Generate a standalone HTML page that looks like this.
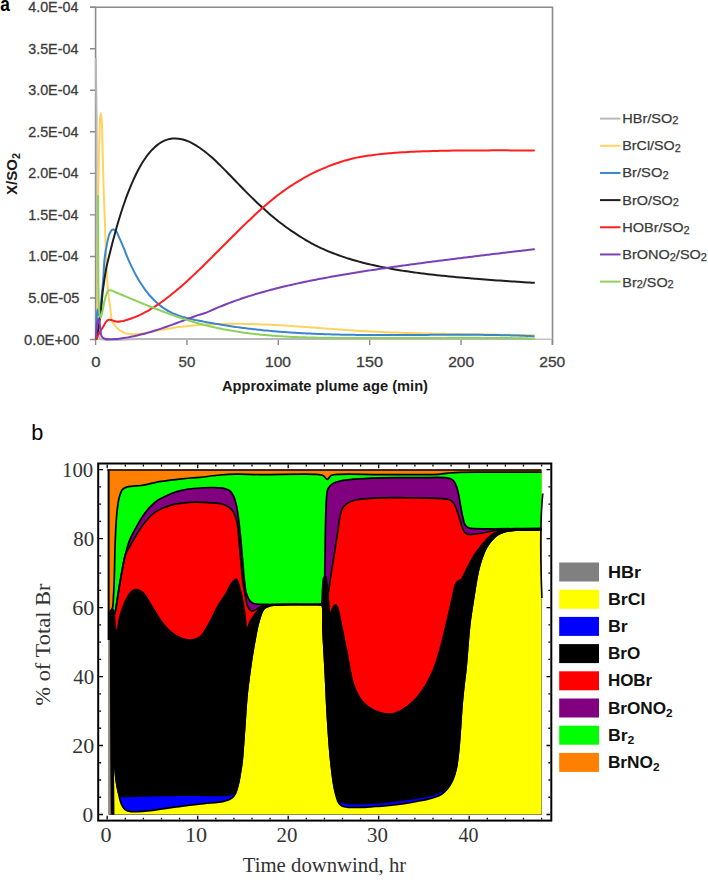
<!DOCTYPE html>
<html><head><meta charset="utf-8"><style>
html,body{margin:0;padding:0;background:#fff;}
body{width:708px;height:882px;overflow:hidden;}
svg{display:block;}
.ta{font-family:"Liberation Sans",sans-serif;font-size:15px;fill:#3c3c3c;stroke:#3c3c3c;stroke-width:0.3px;}
.tab{font-family:"Liberation Sans",sans-serif;font-size:14px;font-weight:bold;fill:#1a1a1a;}
.lab{font-family:"Liberation Sans",sans-serif;font-size:20px;font-weight:bold;fill:#000;}
.lg{font-family:"Liberation Sans",sans-serif;font-size:13.2px;fill:#3a3a3a;stroke:#3a3a3a;stroke-width:0.25px;}
.sub{font-size:10px;}
.lb{font-family:"Liberation Sans",sans-serif;font-size:22px;fill:#000;}
.tb{font-family:"Liberation Serif",serif;font-size:20px;fill:#333;}
.tbb{font-family:"Liberation Serif",serif;font-size:20px;font-weight:bold;fill:#333;}
.lgb{font-family:"Liberation Sans",sans-serif;font-size:16px;font-weight:bold;fill:#111;}
.sb{font-size:11px;}
</style></head><body>
<svg width="708" height="882" viewBox="0 0 708 882">
<g stroke="#8a8a8a" stroke-width="1.6" fill="none">
<path d="M90 7.2H552.5V344.5"/>
<path d="M95.6 7.2V339.4"/>
</g>
<path d="M95.6 339.3H552.5" stroke="#c2c2c2" stroke-width="1.4"/>
<path d="M90 7.20H95.6 M90 48.74H95.6 M90 90.28H95.6 M90 131.81H95.6 M90 173.35H95.6 M90 214.89H95.6 M90 256.43H95.6 M90 297.96H95.6 M90 339.50H95.6 M95.60 339.3V345 M186.96 339.3V345 M278.32 339.3V345 M369.68 339.3V345 M461.04 339.3V345 M552.40 339.3V345" stroke="#8a8a8a" stroke-width="1.4" fill="none"/>
<path d="M95.90 59.00 C95.97 66.00 96.01 72.38 96.10 80.00 C96.20 89.11 96.40 97.32 96.50 110.00 C96.67 131.96 96.62 169.21 96.70 200.00 C96.78 232.46 96.75 275.45 97.00 300.00 C97.15 314.32 96.07 327.99 97.60 334.00 C98.20 336.35 98.14 337.46 100.00 338.60 C105.16 341.77 119.78 338.90 140.00 339.00 C203.47 339.32 402.67 339.00 534.00 339.00" stroke="#b8b8b8" stroke-width="2" fill="none" stroke-linejoin="round" stroke-linecap="round"/>
<path d="M97.30 339.00 C97.43 326.00 97.58 316.21 97.70 300.00 C97.90 273.15 97.86 221.43 98.20 193.00 C98.42 174.15 98.73 159.65 99.10 146.00 C99.39 135.46 99.55 123.46 100.10 118.00 C100.33 115.73 100.65 113.19 100.90 113.20 C101.19 113.21 101.48 116.99 101.70 120.00 C102.13 125.86 102.22 136.35 102.50 146.00 C102.85 158.12 103.17 173.59 103.60 187.00 C104.01 199.91 104.58 213.08 105.00 225.00 C105.37 235.59 105.54 244.65 106.00 255.00 C106.49 266.10 107.02 279.84 107.90 289.50 C108.54 296.54 109.39 302.06 110.20 307.70 C110.90 312.63 111.12 318.27 112.40 321.52 C113.19 323.54 114.35 324.66 115.41 326.00 C116.37 327.21 117.37 328.31 118.42 329.24 C119.38 330.10 120.40 330.85 121.43 331.46 C122.41 332.04 123.42 332.49 124.44 332.86 C125.43 333.22 126.44 333.46 127.45 333.66 C128.45 333.86 129.45 333.97 130.46 334.06 C131.46 334.16 132.47 334.20 133.47 334.21 C134.47 334.22 135.48 334.20 136.48 334.14 C137.48 334.09 138.49 334.00 139.49 333.89 C140.49 333.79 141.50 333.65 142.50 333.50 C143.50 333.35 144.51 333.17 145.51 332.99 C146.51 332.81 147.52 332.61 148.52 332.41 C149.52 332.21 150.53 331.99 151.53 331.78 C152.53 331.57 153.54 331.36 154.54 331.15 C155.54 330.94 156.55 330.74 157.55 330.54 C158.55 330.34 159.56 330.15 160.56 329.96 C161.56 329.77 162.57 329.59 163.57 329.41 C164.57 329.23 165.58 329.06 166.58 328.89 C167.58 328.73 168.59 328.56 169.59 328.40 C170.59 328.25 171.60 328.09 172.60 327.94 C173.60 327.80 174.61 327.65 175.61 327.51 C176.61 327.37 177.62 327.24 178.62 327.11 C179.62 326.98 180.63 326.85 181.63 326.73 C182.63 326.61 183.64 326.49 184.64 326.38 C185.64 326.27 186.65 326.16 187.65 326.05 C188.65 325.95 189.66 325.85 190.66 325.75 C191.66 325.66 192.67 325.57 193.67 325.48 C194.67 325.39 195.68 325.31 196.68 325.23 C197.68 325.15 198.69 325.07 199.69 325.00 C200.69 324.92 201.70 324.85 202.70 324.79 C203.70 324.72 204.71 324.66 205.71 324.60 C206.71 324.55 207.72 324.49 208.72 324.44 C209.72 324.39 210.73 324.34 211.73 324.30 C212.73 324.25 213.74 324.21 214.74 324.17 C215.74 324.14 216.75 324.10 217.75 324.07 C218.75 324.04 219.76 324.01 220.76 323.98 C221.76 323.96 222.77 323.94 223.77 323.92 C224.77 323.90 225.78 323.88 226.78 323.87 C227.78 323.85 228.79 323.84 229.79 323.83 C230.79 323.82 231.80 323.82 232.80 323.82 C233.80 323.81 234.81 323.81 235.81 323.82 C236.81 323.82 237.82 323.82 238.82 323.83 C239.82 323.84 240.83 323.85 241.83 323.86 C242.83 323.87 243.84 323.89 244.84 323.90 C245.84 323.92 246.85 323.94 247.85 323.96 C248.85 323.98 249.86 324.01 250.86 324.03 C251.86 324.06 252.87 324.09 253.87 324.12 C254.87 324.15 255.88 324.18 256.88 324.21 C257.88 324.25 258.89 324.28 259.89 324.32 C260.89 324.36 261.90 324.40 262.90 324.44 C263.90 324.48 264.91 324.52 265.91 324.57 C266.91 324.61 267.92 324.66 268.92 324.71 C269.92 324.75 270.93 324.80 271.93 324.85 C272.93 324.91 273.94 324.96 274.94 325.01 C275.94 325.07 276.95 325.12 277.95 325.18 C278.95 325.23 279.96 325.29 280.96 325.35 C281.96 325.41 282.97 325.47 283.97 325.53 C284.97 325.59 285.98 325.66 286.98 325.72 C287.98 325.78 288.99 325.85 289.99 325.91 C290.99 325.98 292.00 326.04 293.00 326.11 C294.00 326.18 295.01 326.25 296.01 326.32 C297.01 326.39 298.02 326.46 299.02 326.53 C300.02 326.60 301.03 326.67 302.03 326.74 C303.03 326.81 304.04 326.88 305.04 326.95 C306.04 327.03 307.05 327.10 308.05 327.17 C309.05 327.25 310.06 327.32 311.06 327.40 C312.06 327.47 313.07 327.54 314.07 327.62 C315.07 327.69 316.08 327.77 317.08 327.84 C318.08 327.92 319.09 327.99 320.09 328.07 C321.09 328.14 322.10 328.22 323.10 328.30 C324.10 328.37 325.11 328.45 326.11 328.52 C327.11 328.60 328.12 328.67 329.12 328.75 C330.12 328.82 331.13 328.89 332.13 328.97 C333.13 329.04 334.14 329.12 335.14 329.19 C336.14 329.26 337.15 329.34 338.15 329.41 C339.15 329.48 340.16 329.55 341.16 329.62 C342.16 329.69 343.17 329.77 344.17 329.84 C345.17 329.91 346.18 329.97 347.18 330.04 C348.18 330.11 349.19 330.18 350.19 330.25 C351.19 330.31 352.20 330.38 353.20 330.44 C354.20 330.51 355.21 330.57 356.21 330.64 C357.21 330.70 358.22 330.76 359.22 330.82 C360.22 330.88 361.23 330.94 362.23 331.00 C363.23 331.06 364.24 331.12 365.24 331.17 C366.24 331.23 367.25 331.29 368.25 331.34 C369.25 331.39 370.26 331.45 371.26 331.50 C372.26 331.55 373.27 331.60 374.27 331.65 C375.27 331.70 376.28 331.75 377.28 331.80 C378.28 331.85 379.29 331.89 380.29 331.94 C381.29 331.99 382.30 332.03 383.30 332.07 C384.30 332.12 385.31 332.16 386.31 332.20 C387.31 332.25 388.32 332.29 389.32 332.33 C390.32 332.37 391.33 332.41 392.33 332.45 C393.33 332.49 394.34 332.52 395.34 332.56 C396.34 332.60 397.35 332.64 398.35 332.67 C399.35 332.71 400.36 332.74 401.36 332.78 C402.36 332.81 403.37 332.84 404.37 332.88 C405.37 332.91 406.38 332.94 407.38 332.97 C408.38 333.00 409.39 333.03 410.39 333.06 C411.39 333.09 412.40 333.12 413.40 333.15 C414.40 333.18 415.41 333.21 416.41 333.23 C417.41 333.26 418.42 333.29 419.42 333.31 C420.42 333.34 421.43 333.36 422.43 333.39 C423.43 333.41 424.44 333.44 425.44 333.46 C426.44 333.49 427.45 333.51 428.45 333.53 C429.45 333.55 430.46 333.58 431.46 333.60 C432.46 333.62 433.47 333.64 434.47 333.66 C435.47 333.68 436.48 333.70 437.48 333.72 C438.48 333.74 439.49 333.76 440.49 333.78 C441.49 333.80 442.50 333.82 443.50 333.84 C444.50 333.85 445.51 333.87 446.51 333.89 C447.51 333.91 448.52 333.93 449.52 333.94 C450.52 333.96 451.53 333.98 452.53 333.99 C453.53 334.01 454.54 334.02 455.54 334.04 C456.54 334.06 457.55 334.07 458.55 334.09 C459.55 334.10 460.56 334.12 461.56 334.13 C462.56 334.15 463.57 334.16 464.57 334.18 C465.57 334.19 466.58 334.21 467.58 334.22 C468.58 334.23 469.59 334.25 470.59 334.26 C471.59 334.28 472.60 334.29 473.60 334.30 C474.60 334.32 475.61 334.33 476.61 334.35 C477.61 334.36 478.62 334.37 479.62 334.39 C480.62 334.40 481.63 334.41 482.63 334.43 C483.63 334.44 484.64 334.45 485.64 334.47 C486.64 334.48 487.65 334.50 488.65 334.51 C489.65 334.52 490.66 334.54 491.66 334.55 C492.66 334.56 493.67 334.58 494.67 334.59 C495.67 334.61 496.68 334.62 497.68 334.63 C498.68 334.65 499.69 334.66 500.69 334.68 C501.69 334.69 502.70 334.71 503.70 334.72 C504.70 334.74 505.71 334.75 506.71 334.77 C507.71 334.78 508.72 334.80 509.72 334.82 C510.72 334.83 511.73 334.85 512.73 334.86 C513.73 334.88 514.74 334.90 515.74 334.91 C516.74 334.93 517.75 334.95 518.75 334.97 C519.75 334.98 520.76 335.00 521.76 335.02 C522.76 335.04 523.77 335.06 524.77 335.08 C525.77 335.10 526.78 335.12 527.78 335.14 C528.78 335.16 529.79 335.18 530.79 335.20 C531.79 335.22 532.80 335.24 533.80 335.26" stroke="#ffd35e" stroke-width="2" fill="none" stroke-linejoin="round" stroke-linecap="round"/>
<path d="M96.20 339.00 C96.40 331.33 96.37 321.37 96.80 316.00 C97.03 313.09 97.25 309.33 97.70 309.30 C98.17 309.27 99.06 316.54 99.60 316.50 C100.46 316.43 100.90 303.99 101.50 298.00 C102.06 292.34 102.61 287.51 103.10 281.50 C103.69 274.30 103.89 264.61 104.70 257.70 C105.33 252.31 106.20 247.66 107.10 243.40 C107.84 239.89 108.34 236.38 109.50 233.90 C110.37 232.05 111.49 229.86 112.70 229.50 C113.65 229.22 114.89 229.87 115.80 230.70 C117.13 231.91 117.86 234.66 119.00 237.10 C120.48 240.28 122.41 244.85 123.80 248.22 C124.95 250.99 125.79 253.36 126.81 255.83 C127.80 258.22 128.80 260.54 129.83 262.81 C130.82 264.99 131.82 267.11 132.84 269.17 C133.83 271.16 134.83 273.10 135.86 274.98 C136.85 276.79 137.85 278.54 138.87 280.25 C139.86 281.89 140.87 283.49 141.89 285.03 C142.88 286.52 143.88 287.96 144.90 289.36 C145.89 290.70 146.90 292.01 147.92 293.27 C148.91 294.48 149.91 295.66 150.93 296.79 C151.92 297.89 152.93 298.95 153.95 299.97 C154.94 300.95 155.94 301.90 156.96 302.81 C157.95 303.69 158.96 304.54 159.98 305.34 C160.97 306.13 161.98 306.88 162.99 307.59 C163.99 308.29 164.99 308.95 166.01 309.58 C167.00 310.20 168.01 310.78 169.02 311.33 C170.02 311.87 171.02 312.38 172.04 312.86 C173.03 313.34 174.04 313.78 175.05 314.20 C176.05 314.62 177.06 315.01 178.06 315.38 C179.07 315.74 180.07 316.08 181.08 316.40 C182.08 316.72 183.09 317.02 184.09 317.30 C185.10 317.58 186.10 317.84 187.11 318.10 C188.11 318.35 189.12 318.59 190.12 318.82 C191.13 319.05 192.13 319.27 193.14 319.49 C194.14 319.71 195.15 319.91 196.15 320.12 C197.16 320.33 198.16 320.54 199.17 320.74 C200.17 320.94 201.18 321.14 202.18 321.34 C203.19 321.54 204.19 321.73 205.20 321.93 C206.20 322.12 207.21 322.31 208.21 322.49 C209.22 322.68 210.22 322.86 211.23 323.05 C212.23 323.23 213.24 323.40 214.24 323.58 C215.25 323.76 216.25 323.93 217.26 324.10 C218.26 324.27 219.27 324.44 220.27 324.60 C221.28 324.77 222.28 324.93 223.29 325.09 C224.29 325.25 225.29 325.41 226.30 325.57 C227.30 325.72 228.31 325.87 229.31 326.03 C230.32 326.18 231.32 326.32 232.33 326.47 C233.33 326.61 234.34 326.76 235.34 326.90 C236.35 327.04 237.35 327.18 238.36 327.31 C239.36 327.45 240.37 327.58 241.37 327.72 C242.38 327.85 243.38 327.98 244.39 328.10 C245.39 328.23 246.40 328.36 247.40 328.48 C248.41 328.60 249.41 328.72 250.42 328.84 C251.42 328.96 252.43 329.07 253.43 329.19 C254.44 329.30 255.44 329.41 256.45 329.52 C257.45 329.63 258.46 329.74 259.46 329.84 C260.47 329.95 261.47 330.05 262.48 330.15 C263.48 330.26 264.49 330.36 265.49 330.45 C266.50 330.55 267.50 330.65 268.51 330.74 C269.51 330.83 270.52 330.92 271.52 331.01 C272.53 331.10 273.53 331.19 274.54 331.28 C275.54 331.36 276.55 331.45 277.55 331.53 C278.55 331.61 279.56 331.69 280.56 331.77 C281.57 331.85 282.57 331.92 283.58 332.00 C284.58 332.07 285.59 332.15 286.59 332.22 C287.60 332.29 288.60 332.36 289.61 332.43 C290.61 332.50 291.62 332.56 292.62 332.63 C293.63 332.69 294.63 332.76 295.64 332.82 C296.64 332.88 297.65 332.94 298.65 333.00 C299.66 333.06 300.66 333.11 301.67 333.17 C302.67 333.22 303.68 333.28 304.68 333.33 C305.69 333.38 306.69 333.43 307.70 333.48 C308.70 333.53 309.71 333.58 310.71 333.62 C311.72 333.67 312.72 333.72 313.73 333.76 C314.73 333.80 315.74 333.85 316.74 333.89 C317.75 333.93 318.75 333.97 319.76 334.01 C320.76 334.04 321.77 334.08 322.77 334.12 C323.78 334.15 324.78 334.19 325.79 334.22 C326.79 334.25 327.80 334.29 328.80 334.32 C329.80 334.35 330.81 334.38 331.81 334.41 C332.82 334.43 333.82 334.46 334.83 334.49 C335.83 334.51 336.84 334.54 337.84 334.56 C338.85 334.59 339.85 334.61 340.86 334.63 C341.86 334.65 342.87 334.68 343.87 334.70 C344.88 334.72 345.88 334.73 346.89 334.75 C347.89 334.77 348.90 334.79 349.90 334.80 C350.91 334.82 351.91 334.84 352.92 334.85 C353.92 334.86 354.93 334.88 355.93 334.89 C356.94 334.90 357.94 334.92 358.95 334.93 C359.95 334.94 360.96 334.95 361.96 334.96 C362.97 334.97 363.97 334.98 364.98 334.98 C365.98 334.99 366.99 335.00 367.99 335.01 C369.00 335.01 370.00 335.02 371.01 335.02 C372.01 335.03 373.02 335.03 374.02 335.04 C375.03 335.04 376.03 335.04 377.04 335.05 C378.04 335.05 379.05 335.05 380.05 335.05 C381.05 335.06 382.06 335.06 383.06 335.06 C384.07 335.06 385.07 335.06 386.08 335.06 C387.08 335.06 388.09 335.06 389.09 335.06 C390.10 335.05 391.10 335.05 392.11 335.05 C393.11 335.05 394.12 335.05 395.12 335.04 C396.13 335.04 397.13 335.04 398.14 335.03 C399.14 335.03 400.15 335.03 401.15 335.02 C402.16 335.02 403.16 335.02 404.17 335.01 C405.17 335.01 406.18 335.00 407.18 335.00 C408.19 334.99 409.19 334.99 410.20 334.98 C411.20 334.98 412.21 334.97 413.21 334.97 C414.22 334.96 415.22 334.96 416.23 334.95 C417.23 334.94 418.24 334.94 419.24 334.93 C420.25 334.93 421.25 334.92 422.26 334.92 C423.26 334.91 424.27 334.90 425.27 334.90 C426.28 334.89 427.28 334.89 428.29 334.88 C429.29 334.88 430.30 334.87 431.30 334.86 C432.30 334.86 433.31 334.85 434.31 334.85 C435.32 334.84 436.32 334.84 437.33 334.83 C438.33 334.83 439.34 334.82 440.34 334.82 C441.35 334.82 442.35 334.81 443.36 334.81 C444.36 334.80 445.37 334.80 446.37 334.80 C447.38 334.79 448.38 334.79 449.39 334.79 C450.39 334.78 451.40 334.78 452.40 334.78 C453.41 334.78 454.41 334.78 455.42 334.78 C456.42 334.77 457.43 334.77 458.43 334.77 C459.44 334.77 460.44 334.77 461.45 334.77 C462.45 334.77 463.46 334.78 464.46 334.78 C465.47 334.78 466.47 334.78 467.48 334.78 C468.48 334.79 469.49 334.79 470.49 334.79 C471.50 334.80 472.50 334.80 473.51 334.81 C474.51 334.81 475.52 334.82 476.52 334.82 C477.53 334.83 478.53 334.84 479.54 334.85 C480.54 334.85 481.55 334.86 482.55 334.87 C483.55 334.88 484.56 334.89 485.56 334.90 C486.57 334.91 487.57 334.93 488.58 334.94 C489.58 334.95 490.59 334.96 491.59 334.98 C492.60 334.99 493.60 335.01 494.61 335.02 C495.61 335.04 496.62 335.06 497.62 335.08 C498.63 335.09 499.63 335.11 500.64 335.13 C501.64 335.15 502.65 335.17 503.65 335.20 C504.66 335.22 505.66 335.24 506.67 335.27 C507.67 335.29 508.68 335.31 509.68 335.34 C510.69 335.37 511.69 335.39 512.70 335.42 C513.70 335.45 514.71 335.48 515.71 335.51 C516.72 335.54 517.72 335.57 518.73 335.61 C519.73 335.64 520.74 335.68 521.74 335.71 C522.75 335.75 523.75 335.78 524.76 335.82 C525.76 335.86 526.77 335.90 527.77 335.94 C528.78 335.98 529.78 336.02 530.79 336.07 C531.79 336.11 532.80 336.16 533.80 336.20" stroke="#3a86cc" stroke-width="2" fill="none" stroke-linejoin="round" stroke-linecap="round"/>
<path d="M96.50 338.70 C97.33 334.13 98.26 329.68 99.00 325.00 C99.77 320.12 100.40 315.23 101.00 310.00 C101.65 304.28 101.92 298.42 102.70 292.00 C103.61 284.56 105.01 274.72 106.30 267.98 C107.25 263.02 108.29 259.37 109.31 255.18 C110.30 251.11 111.30 247.10 112.32 243.17 C113.31 239.36 114.31 235.62 115.33 231.95 C116.32 228.40 117.32 224.91 118.35 221.49 C119.33 218.18 120.33 214.94 121.36 211.77 C122.34 208.70 123.35 205.69 124.37 202.76 C125.35 199.93 126.36 197.15 127.38 194.45 C128.36 191.84 129.37 189.29 130.39 186.81 C131.38 184.42 132.38 182.09 133.40 179.83 C134.39 177.65 135.39 175.53 136.41 173.47 C137.40 171.50 138.40 169.58 139.42 167.73 C140.41 165.95 141.41 164.23 142.44 162.57 C143.42 160.98 144.42 159.45 145.45 157.98 C146.43 156.57 147.43 155.22 148.46 153.93 C149.44 152.70 150.44 151.52 151.47 150.41 C152.45 149.34 153.46 148.33 154.48 147.39 C155.46 146.48 156.47 145.63 157.49 144.85 C158.48 144.09 159.48 143.40 160.50 142.77 C161.49 142.16 162.50 141.61 163.51 141.12 C164.50 140.65 165.51 140.24 166.53 139.89 C167.52 139.55 168.53 139.28 169.54 139.06 C170.53 138.85 171.54 138.69 172.55 138.60 C173.55 138.50 174.56 138.47 175.56 138.49 C176.56 138.51 177.57 138.58 178.57 138.71 C179.58 138.83 180.58 139.01 181.58 139.24 C182.59 139.46 183.60 139.74 184.59 140.05 C185.60 140.37 186.61 140.73 187.60 141.13 C188.62 141.53 189.62 141.98 190.62 142.46 C191.63 142.94 192.63 143.47 193.63 144.02 C194.64 144.58 195.64 145.17 196.64 145.79 C197.65 146.42 198.65 147.09 199.65 147.77 C200.66 148.46 201.66 149.19 202.66 149.93 C203.67 150.68 204.67 151.46 205.67 152.26 C206.68 153.07 207.68 153.90 208.68 154.74 C209.69 155.59 210.70 156.47 211.69 157.36 C212.70 158.25 213.71 159.17 214.71 160.10 C215.71 161.03 216.72 161.98 217.72 162.94 C218.72 163.90 219.73 164.88 220.73 165.87 C221.73 166.86 222.74 167.86 223.74 168.87 C224.75 169.88 225.75 170.91 226.75 171.93 C227.76 172.96 228.76 173.99 229.76 175.03 C230.77 176.07 231.77 177.11 232.77 178.16 C233.78 179.20 234.78 180.25 235.78 181.29 C236.79 182.33 237.79 183.38 238.80 184.42 C239.80 185.46 240.80 186.49 241.81 187.52 C242.81 188.55 243.81 189.58 244.82 190.59 C245.82 191.61 246.82 192.62 247.83 193.63 C248.83 194.63 249.84 195.63 250.84 196.62 C251.84 197.61 252.85 198.59 253.85 199.57 C254.85 200.54 255.86 201.51 256.86 202.47 C257.86 203.42 258.87 204.37 259.87 205.30 C260.88 206.24 261.88 207.17 262.89 208.08 C263.89 209.00 264.89 209.90 265.90 210.79 C266.90 211.68 267.90 212.57 268.91 213.44 C269.91 214.30 270.91 215.16 271.92 216.00 C272.92 216.84 273.92 217.67 274.93 218.49 C275.93 219.31 276.94 220.11 277.94 220.91 C278.94 221.70 279.95 222.48 280.95 223.25 C281.95 224.02 282.96 224.78 283.96 225.52 C284.97 226.27 285.97 227.00 286.98 227.72 C287.98 228.44 289.86 229.77 289.99 229.85 C290.00 229.86 289.99 229.86 290.00 229.86 C290.12 229.95 292.00 231.24 293.00 231.91 C294.00 232.59 295.00 233.25 296.00 233.91 C297.00 234.56 298.00 235.21 299.00 235.85 C300.00 236.49 301.00 237.12 302.00 237.74 C303.00 238.36 304.00 238.98 305.00 239.58 C306.00 240.17 307.00 240.76 308.00 241.33 C309.00 241.91 310.00 242.47 311.00 243.01 C312.00 243.56 313.00 244.09 314.00 244.61 C315.00 245.12 316.00 245.63 317.00 246.12 C318.00 246.62 319.00 247.10 320.00 247.57 C321.00 248.05 322.00 248.51 323.00 248.96 C324.00 249.41 325.00 249.85 326.00 250.29 C327.00 250.72 328.00 251.14 329.00 251.56 C330.00 251.97 331.00 252.37 332.00 252.77 C333.00 253.17 334.00 253.55 335.00 253.93 C336.00 254.31 337.00 254.68 338.00 255.05 C339.00 255.41 340.00 255.76 341.00 256.11 C342.00 256.46 343.00 256.80 344.00 257.14 C345.00 257.47 346.00 257.80 347.00 258.12 C348.00 258.43 349.00 258.75 350.00 259.05 C351.00 259.36 352.00 259.66 353.00 259.96 C354.00 260.25 355.00 260.54 356.00 260.82 C357.00 261.10 358.00 261.38 359.00 261.65 C360.00 261.92 361.00 262.18 362.00 262.45 C363.00 262.71 364.00 262.96 365.00 263.21 C366.00 263.46 367.00 263.70 368.00 263.94 C369.00 264.18 370.00 264.42 371.00 264.65 C372.00 264.88 373.00 265.11 374.00 265.33 C375.00 265.55 376.00 265.77 377.00 265.98 C378.00 266.20 379.00 266.41 380.00 266.61 C381.00 266.82 382.00 267.02 383.00 267.22 C384.00 267.41 385.00 267.61 386.00 267.80 C387.00 267.99 388.00 268.18 389.00 268.36 C390.00 268.54 391.00 268.73 392.00 268.90 C393.00 269.08 394.00 269.25 395.00 269.42 C396.00 269.60 397.00 269.76 398.00 269.93 C399.00 270.09 400.00 270.26 401.00 270.42 C402.00 270.57 403.00 270.73 404.00 270.89 C405.00 271.04 406.00 271.19 407.00 271.34 C408.00 271.49 409.00 271.63 410.00 271.78 C411.00 271.92 412.00 272.06 413.00 272.20 C414.00 272.34 415.00 272.48 416.00 272.62 C417.00 272.75 418.00 272.88 419.00 273.01 C420.00 273.14 421.00 273.27 422.00 273.40 C423.00 273.53 424.00 273.65 425.00 273.78 C426.00 273.90 427.00 274.02 428.00 274.14 C429.00 274.26 430.00 274.38 431.00 274.49 C432.00 274.61 433.00 274.72 434.00 274.83 C435.00 274.95 436.00 275.06 437.00 275.17 C438.00 275.28 439.00 275.39 440.00 275.49 C441.00 275.60 442.00 275.70 443.00 275.81 C444.00 275.91 445.00 276.01 446.00 276.11 C447.00 276.22 448.00 276.32 449.00 276.41 C450.00 276.51 451.00 276.61 452.00 276.71 C453.00 276.80 454.00 276.90 455.00 276.99 C456.00 277.08 457.00 277.18 458.00 277.27 C459.00 277.36 460.00 277.45 461.00 277.54 C462.00 277.63 463.00 277.72 464.00 277.81 C465.00 277.89 466.00 277.98 467.00 278.06 C468.00 278.15 469.00 278.24 470.00 278.32 C471.00 278.40 472.00 278.49 473.00 278.57 C474.00 278.65 475.00 278.73 476.00 278.81 C477.00 278.89 478.00 278.97 479.00 279.05 C480.00 279.13 481.00 279.21 482.00 279.28 C483.00 279.36 484.00 279.44 485.00 279.51 C486.00 279.59 487.00 279.67 488.00 279.74 C489.00 279.82 490.00 279.89 491.00 279.96 C492.00 280.04 493.00 280.11 494.00 280.18 C495.00 280.25 496.00 280.32 497.00 280.40 C498.00 280.47 499.00 280.54 500.00 280.61 C501.00 280.68 502.00 280.75 503.00 280.81 C504.00 280.88 505.00 280.95 506.00 281.02 C507.00 281.09 508.00 281.16 509.00 281.22 C510.00 281.29 511.00 281.36 512.00 281.42 C513.00 281.49 514.00 281.55 515.00 281.62 C516.00 281.68 517.00 281.75 518.00 281.81 C519.00 281.88 520.00 281.94 521.00 282.00 C522.00 282.07 523.00 282.13 524.00 282.19 C525.00 282.26 526.00 282.32 527.00 282.38 C528.00 282.44 529.00 282.50 530.00 282.57 C531.00 282.63 532.27 282.70 533.00 282.75 C533.42 282.78 533.67 282.79 534.00 282.81" stroke="#1e1e1e" stroke-width="2" fill="none" stroke-linejoin="round" stroke-linecap="round"/>
<path d="M96.50 338.70 C97.53 336.60 98.47 334.42 99.60 332.40 C100.71 330.42 102.09 328.54 103.20 326.70 C104.21 325.02 104.93 323.02 106.00 321.80 C106.85 320.84 107.75 319.94 108.80 319.70 C109.88 319.45 111.11 320.09 112.40 320.40 C113.91 320.76 115.65 321.69 117.30 321.80 C118.92 321.91 120.77 321.38 122.20 321.11 C123.33 320.89 124.21 320.65 125.20 320.39 C126.21 320.12 127.21 319.83 128.21 319.53 C129.21 319.22 130.22 318.89 131.21 318.54 C132.22 318.18 133.22 317.81 134.22 317.41 C135.22 317.02 136.22 316.60 137.22 316.17 C138.23 315.73 139.23 315.27 140.23 314.80 C141.23 314.33 142.23 313.83 143.23 313.32 C144.24 312.80 145.24 312.27 146.24 311.72 C147.24 311.17 148.24 310.60 149.24 310.02 C150.24 309.43 151.25 308.83 152.24 308.21 C153.25 307.59 154.25 306.96 155.25 306.31 C156.25 305.66 157.25 304.99 158.25 304.31 C159.26 303.62 160.26 302.93 161.26 302.22 C162.26 301.50 163.26 300.77 164.26 300.04 C165.27 299.29 166.27 298.54 167.27 297.78 C168.27 297.01 169.27 296.23 170.27 295.44 C171.27 294.64 172.28 293.84 173.27 293.02 C174.28 292.20 175.28 291.38 176.28 290.54 C177.28 289.70 178.28 288.85 179.28 287.99 C180.29 287.13 181.29 286.26 182.29 285.38 C183.29 284.50 184.29 283.61 185.29 282.71 C186.30 281.81 187.30 280.90 188.30 279.99 C189.30 279.08 190.30 278.15 191.30 277.22 C192.30 276.29 193.31 275.35 194.31 274.41 C195.31 273.46 196.31 272.51 197.31 271.56 C198.31 270.60 199.31 269.63 200.31 268.67 C201.32 267.70 202.32 266.72 203.32 265.75 C204.32 264.77 205.32 263.78 206.32 262.80 C207.33 261.81 208.33 260.82 209.33 259.82 C210.33 258.83 211.33 257.83 212.33 256.83 C213.33 255.83 214.33 254.83 215.34 253.83 C216.34 252.82 217.34 251.82 218.34 250.81 C219.34 249.80 220.34 248.80 221.34 247.79 C222.35 246.78 223.35 245.77 224.35 244.76 C225.35 243.76 226.35 242.75 227.35 241.74 C228.35 240.74 229.36 239.73 230.36 238.73 C231.36 237.72 232.36 236.72 233.36 235.72 C234.36 234.72 235.36 233.72 236.37 232.73 C237.37 231.74 238.37 230.74 239.37 229.76 C240.37 228.77 241.37 227.79 242.38 226.81 C243.38 225.83 244.38 224.86 245.38 223.89 C246.38 222.92 247.38 221.96 248.38 221.00 C249.38 220.04 250.39 219.09 251.39 218.15 C252.39 217.20 253.39 216.27 254.39 215.33 C255.39 214.40 256.39 213.48 257.40 212.56 C258.40 211.65 259.40 210.75 260.40 209.85 C261.40 208.95 262.40 208.06 263.41 207.18 C264.40 206.30 265.41 205.43 266.41 204.57 C267.41 203.71 268.41 202.86 269.41 202.02 C270.41 201.19 271.41 200.36 272.42 199.54 C273.42 198.73 274.42 197.92 275.42 197.13 C276.42 196.34 277.42 195.56 278.43 194.79 C279.43 194.02 280.43 193.27 281.43 192.53 C282.43 191.79 283.43 191.06 284.44 190.34 C285.44 189.63 286.44 188.92 287.44 188.23 C288.44 187.54 289.44 186.86 290.45 186.20 C291.44 185.53 292.45 184.88 293.45 184.23 C294.45 183.59 295.45 182.96 296.45 182.34 C297.45 181.72 298.45 181.12 299.46 180.52 C300.46 179.92 301.46 179.34 302.46 178.77 C303.46 178.19 304.46 177.63 305.47 177.08 C306.47 176.53 307.47 175.99 308.47 175.46 C309.47 174.93 310.47 174.42 311.48 173.91 C312.48 173.40 313.48 172.91 314.48 172.42 C315.48 171.93 316.48 171.46 317.48 170.99 C318.48 170.53 319.49 170.07 320.49 169.62 C321.49 169.18 322.49 168.74 323.49 168.32 C324.49 167.89 325.49 167.48 326.50 167.07 C327.50 166.66 328.92 166.10 329.50 165.88 C329.74 165.79 329.76 165.78 330.00 165.69 C330.58 165.47 332.00 164.93 333.00 164.56 C334.00 164.19 335.00 163.83 336.00 163.47 C337.00 163.11 338.00 162.76 339.00 162.43 C340.00 162.09 341.00 161.76 342.00 161.44 C343.00 161.13 344.00 160.82 345.00 160.53 C346.00 160.24 347.00 159.96 348.00 159.70 C349.00 159.43 350.00 159.19 351.00 158.95 C352.00 158.71 353.00 158.48 354.00 158.27 C355.00 158.05 356.00 157.84 357.00 157.64 C358.00 157.43 359.00 157.24 360.00 157.05 C361.00 156.87 362.00 156.69 363.00 156.52 C364.00 156.34 365.00 156.18 366.00 156.02 C367.00 155.86 368.00 155.71 369.00 155.56 C370.00 155.41 371.00 155.27 372.00 155.14 C373.00 155.00 374.00 154.87 375.00 154.74 C376.00 154.62 377.00 154.50 378.00 154.38 C379.00 154.27 380.00 154.16 381.00 154.05 C382.00 153.94 383.00 153.84 384.00 153.74 C385.00 153.64 386.00 153.55 387.00 153.46 C388.00 153.36 389.00 153.28 390.00 153.19 C391.00 153.11 392.00 153.03 393.00 152.95 C394.00 152.87 395.00 152.80 396.00 152.72 C397.00 152.65 398.00 152.58 399.00 152.52 C400.00 152.45 401.00 152.39 402.00 152.33 C403.00 152.26 404.00 152.21 405.00 152.15 C406.00 152.09 407.00 152.04 408.00 151.99 C409.00 151.93 410.00 151.88 411.00 151.83 C412.00 151.79 413.00 151.74 414.00 151.69 C415.00 151.65 416.00 151.61 417.00 151.57 C418.00 151.52 419.00 151.49 420.00 151.45 C421.00 151.41 422.00 151.37 423.00 151.34 C424.00 151.30 425.00 151.27 426.00 151.24 C427.00 151.20 428.00 151.17 429.00 151.14 C430.00 151.11 431.00 151.08 432.00 151.06 C433.00 151.03 434.00 151.00 435.00 150.97 C436.00 150.95 437.00 150.92 438.00 150.90 C439.00 150.88 440.00 150.85 441.00 150.83 C442.00 150.81 443.00 150.79 444.00 150.77 C445.00 150.75 446.00 150.73 447.00 150.71 C448.00 150.69 449.00 150.67 450.00 150.66 C451.00 150.64 452.00 150.62 453.00 150.61 C454.00 150.59 455.00 150.58 456.00 150.56 C457.00 150.55 458.00 150.53 459.00 150.52 C460.00 150.51 461.00 150.50 462.00 150.49 C463.00 150.48 464.00 150.47 465.00 150.47 C466.00 150.46 467.00 150.45 468.00 150.45 C469.00 150.44 470.00 150.44 471.00 150.43 C472.00 150.43 473.00 150.42 474.00 150.42 C475.00 150.41 476.00 150.41 477.00 150.41 C478.00 150.40 479.00 150.40 480.00 150.40 C481.00 150.39 482.00 150.39 483.00 150.39 C484.00 150.38 485.00 150.38 486.00 150.38 C487.00 150.38 488.00 150.38 489.00 150.38 C490.00 150.37 491.00 150.37 492.00 150.37 C493.00 150.37 494.00 150.37 495.00 150.37 C496.00 150.37 497.00 150.37 498.00 150.37 C499.00 150.37 500.00 150.37 501.00 150.37 C502.00 150.37 503.00 150.37 504.00 150.37 C505.00 150.37 506.00 150.37 507.00 150.37 C508.00 150.37 509.00 150.37 510.00 150.38 C511.00 150.38 512.00 150.38 513.00 150.38 C514.00 150.38 515.00 150.38 516.00 150.38 C517.00 150.39 518.00 150.39 519.00 150.39 C520.00 150.39 521.00 150.39 522.00 150.40 C523.00 150.40 524.00 150.40 525.00 150.40 C526.00 150.41 527.00 150.41 528.00 150.41 C529.00 150.41 530.00 150.42 531.00 150.42 C532.00 150.42 533.00 150.42 534.00 150.43" stroke="#ff1f1f" stroke-width="2" fill="none" stroke-linejoin="round" stroke-linecap="round"/>
<path d="M96.20 337.00 C96.53 332.00 96.51 325.23 97.20 322.00 C97.54 320.39 98.10 318.47 98.50 318.50 C99.07 318.55 99.50 323.28 100.00 326.00 C100.60 329.22 100.54 334.54 101.80 336.60 C102.52 337.78 103.44 338.25 104.60 338.70 C106.05 339.26 108.46 339.19 110.00 339.23 C111.15 339.27 112.00 339.16 113.01 339.11 C114.01 339.06 115.01 338.99 116.01 338.91 C117.02 338.83 118.02 338.73 119.02 338.63 C120.02 338.52 121.02 338.40 122.03 338.28 C123.03 338.15 124.03 338.01 125.03 337.85 C126.03 337.70 127.04 337.54 128.04 337.37 C129.04 337.19 130.04 337.01 131.04 336.82 C132.05 336.62 133.05 336.42 134.05 336.21 C135.05 335.99 136.06 335.77 137.06 335.54 C138.06 335.31 139.06 335.07 140.06 334.82 C141.07 334.57 142.07 334.32 143.07 334.05 C144.07 333.79 145.08 333.52 146.08 333.24 C147.08 332.96 148.08 332.67 149.08 332.38 C150.09 332.09 151.09 331.79 152.09 331.48 C153.09 331.18 154.09 330.86 155.10 330.55 C156.10 330.23 157.10 329.91 158.10 329.58 C159.11 329.25 160.11 328.92 161.11 328.58 C162.11 328.24 163.11 327.90 164.11 327.55 C165.12 327.21 166.12 326.86 167.12 326.50 C168.12 326.15 169.13 325.79 170.13 325.43 C171.13 325.07 172.13 324.71 173.13 324.34 C174.14 323.98 175.14 323.61 176.14 323.24 C177.14 322.87 178.14 322.50 179.15 322.13 C180.15 321.76 181.15 321.38 182.15 321.01 C183.16 320.64 184.16 320.26 185.16 319.89 C186.16 319.51 187.16 319.14 188.17 318.76 C189.17 318.39 190.17 318.01 191.17 317.64 C192.17 317.26 193.30 316.85 194.18 316.52 C194.86 316.27 195.32 316.09 196.00 315.85 C196.87 315.54 198.00 315.18 199.00 314.86 C200.00 314.55 201.00 314.27 202.00 313.95 C203.00 313.63 204.00 313.31 205.00 312.96 C206.00 312.60 207.00 312.21 208.00 311.81 C209.00 311.41 210.00 310.97 211.00 310.54 C212.00 310.11 213.00 309.65 214.00 309.22 C215.00 308.78 216.00 308.35 217.00 307.92 C218.00 307.50 219.00 307.08 220.00 306.67 C221.00 306.25 222.00 305.85 223.00 305.45 C224.00 305.05 225.00 304.65 226.00 304.26 C227.00 303.87 228.00 303.49 229.00 303.11 C230.00 302.73 231.00 302.36 232.00 301.99 C233.00 301.62 234.00 301.26 235.00 300.90 C236.00 300.54 237.00 300.19 238.00 299.84 C239.00 299.50 240.00 299.15 241.00 298.81 C242.00 298.47 243.00 298.14 244.00 297.81 C245.00 297.48 246.00 297.15 247.00 296.83 C248.00 296.51 249.00 296.19 250.00 295.88 C251.00 295.57 252.00 295.26 253.00 294.95 C254.00 294.65 255.00 294.34 256.00 294.05 C257.00 293.75 258.00 293.45 259.00 293.16 C260.00 292.87 261.00 292.59 262.00 292.30 C263.00 292.02 264.00 291.74 265.00 291.46 C266.00 291.18 267.00 290.91 268.00 290.64 C269.00 290.37 270.00 290.10 271.00 289.84 C272.00 289.57 273.00 289.31 274.00 289.06 C275.00 288.80 276.00 288.54 277.00 288.29 C278.00 288.04 279.00 287.79 280.00 287.54 C281.00 287.29 282.00 287.05 283.00 286.81 C284.00 286.56 285.00 286.33 286.00 286.09 C287.00 285.85 288.00 285.62 289.00 285.39 C290.00 285.15 291.00 284.93 292.00 284.70 C293.00 284.47 294.00 284.25 295.00 284.02 C296.00 283.80 297.00 283.58 298.00 283.36 C299.00 283.14 300.00 282.93 301.00 282.71 C302.00 282.50 303.00 282.29 304.00 282.08 C305.00 281.87 306.00 281.66 307.00 281.45 C308.00 281.25 309.00 281.04 310.00 280.84 C311.00 280.64 312.00 280.44 313.00 280.24 C314.00 280.04 315.00 279.84 316.00 279.65 C317.00 279.45 318.00 279.26 319.00 279.06 C320.00 278.87 321.00 278.68 322.00 278.49 C323.00 278.30 324.00 278.11 325.00 277.93 C326.00 277.74 327.00 277.56 328.00 277.37 C329.00 277.19 330.00 277.01 331.00 276.83 C332.00 276.65 333.00 276.47 334.00 276.29 C335.00 276.11 336.00 275.94 337.00 275.76 C338.00 275.59 339.00 275.41 340.00 275.24 C341.00 275.07 342.00 274.90 343.00 274.72 C344.00 274.55 345.00 274.38 346.00 274.22 C347.00 274.05 348.00 273.88 349.00 273.72 C350.00 273.55 351.00 273.38 352.00 273.22 C353.00 273.06 354.00 272.89 355.00 272.73 C356.00 272.57 357.00 272.41 358.00 272.25 C359.00 272.09 360.00 271.93 361.00 271.77 C362.00 271.61 363.00 271.46 364.00 271.30 C365.00 271.15 366.00 270.99 367.00 270.84 C368.00 270.68 369.00 270.53 370.00 270.37 C371.00 270.22 372.00 270.07 373.00 269.92 C374.00 269.77 375.00 269.62 376.00 269.47 C377.00 269.32 378.00 269.17 379.00 269.02 C380.00 268.87 381.00 268.72 382.00 268.58 C383.00 268.43 384.00 268.28 385.00 268.14 C386.00 267.99 387.00 267.85 388.00 267.70 C389.00 267.56 390.00 267.42 391.00 267.27 C392.00 267.13 393.00 266.99 394.00 266.85 C395.00 266.70 396.00 266.56 397.00 266.42 C398.00 266.28 399.00 266.14 400.00 266.00 C401.00 265.86 402.00 265.72 403.00 265.59 C404.00 265.45 405.00 265.31 406.00 265.17 C407.00 265.03 408.00 264.90 409.00 264.76 C410.00 264.62 411.00 264.49 412.00 264.35 C413.00 264.22 414.00 264.08 415.00 263.95 C416.00 263.81 417.00 263.68 418.00 263.55 C419.00 263.41 420.00 263.28 421.00 263.15 C422.00 263.01 423.00 262.88 424.00 262.75 C425.00 262.62 426.00 262.48 427.00 262.35 C428.00 262.22 429.00 262.09 430.00 261.96 C431.00 261.83 432.00 261.70 433.00 261.57 C434.00 261.44 435.00 261.31 436.00 261.18 C437.00 261.05 438.00 260.92 439.00 260.79 C440.00 260.67 441.00 260.54 442.00 260.41 C443.00 260.28 444.00 260.15 445.00 260.03 C446.00 259.90 447.00 259.77 448.00 259.65 C449.00 259.52 450.00 259.39 451.00 259.27 C452.00 259.14 453.00 259.01 454.00 258.89 C455.00 258.76 456.00 258.64 457.00 258.51 C458.00 258.39 459.00 258.26 460.00 258.14 C461.00 258.01 462.00 257.89 463.00 257.77 C464.00 257.64 465.00 257.52 466.00 257.39 C467.00 257.27 468.00 257.15 469.00 257.02 C470.00 256.90 471.00 256.78 472.00 256.66 C473.00 256.53 474.00 256.41 475.00 256.29 C476.00 256.16 477.00 256.04 478.00 255.92 C479.00 255.80 480.00 255.68 481.00 255.56 C482.00 255.43 483.00 255.31 484.00 255.19 C485.00 255.07 486.00 254.95 487.00 254.83 C488.00 254.71 489.00 254.59 490.00 254.47 C491.00 254.35 492.00 254.22 493.00 254.10 C494.00 253.98 495.00 253.86 496.00 253.74 C497.00 253.62 498.00 253.50 499.00 253.39 C500.00 253.27 501.00 253.15 502.00 253.03 C503.00 252.91 504.00 252.79 505.00 252.67 C506.00 252.55 507.00 252.43 508.00 252.31 C509.00 252.19 510.00 252.07 511.00 251.96 C512.00 251.84 513.00 251.72 514.00 251.60 C515.00 251.48 516.00 251.36 517.00 251.25 C518.00 251.13 519.00 251.01 520.00 250.89 C521.00 250.77 522.00 250.66 523.00 250.54 C524.00 250.42 525.00 250.30 526.00 250.19 C527.00 250.07 528.00 249.95 529.00 249.83 C530.00 249.72 531.10 249.59 532.00 249.48 C532.73 249.40 533.33 249.33 534.00 249.25" stroke="#7b3fb8" stroke-width="2" fill="none" stroke-linejoin="round" stroke-linecap="round"/>
<path d="M98.10 196.00 C98.13 214.00 98.12 233.35 98.20 250.00 C98.27 264.33 98.27 278.96 98.50 290.00 C98.67 297.81 98.66 304.85 99.20 310.00 C99.54 313.28 100.03 317.97 100.60 318.00 C101.14 318.02 101.89 313.57 102.50 311.00 C103.24 307.89 103.85 303.66 104.60 300.60 C105.20 298.14 105.81 295.80 106.50 294.00 C107.00 292.69 107.24 291.28 108.10 290.70 C108.93 290.15 110.42 290.31 111.50 290.50 C112.56 290.68 113.51 291.33 114.52 291.75 C115.52 292.18 116.53 292.60 117.53 293.02 C118.54 293.44 119.54 293.86 120.55 294.28 C121.55 294.71 122.56 295.13 123.57 295.55 C124.57 295.97 125.58 296.39 126.58 296.82 C127.59 297.24 128.59 297.66 129.60 298.08 C130.60 298.50 131.61 298.92 132.62 299.34 C133.62 299.76 134.63 300.18 135.63 300.60 C136.64 301.02 137.64 301.44 138.65 301.85 C139.65 302.27 140.66 302.68 141.66 303.10 C142.67 303.51 143.67 303.92 144.68 304.33 C145.69 304.74 146.69 305.15 147.70 305.56 C148.70 305.97 149.71 306.37 150.71 306.77 C151.72 307.18 152.72 307.58 153.73 307.98 C154.74 308.37 155.74 308.77 156.75 309.16 C157.75 309.56 158.76 309.95 159.76 310.34 C160.77 310.72 161.77 311.11 162.78 311.49 C163.78 311.87 164.79 312.25 165.80 312.63 C166.80 313.00 167.81 313.38 168.81 313.75 C169.82 314.11 170.82 314.48 171.83 314.84 C172.83 315.20 173.84 315.56 174.84 315.92 C175.85 316.27 176.86 316.62 177.86 316.97 C178.87 317.31 179.87 317.65 180.88 317.99 C181.88 318.33 182.89 318.66 183.89 318.99 C184.90 319.32 185.90 319.64 186.91 319.96 C187.92 320.28 188.92 320.59 189.93 320.90 C190.93 321.21 191.94 321.51 192.94 321.81 C193.95 322.11 194.95 322.40 195.96 322.69 C196.96 322.97 197.97 323.25 198.98 323.53 C199.98 323.81 200.99 324.08 201.99 324.34 C203.00 324.61 204.00 324.87 205.01 325.12 C206.01 325.38 207.02 325.63 208.03 325.87 C209.03 326.11 210.04 326.35 211.04 326.59 C212.05 326.82 213.05 327.05 214.06 327.28 C215.06 327.50 216.07 327.72 217.07 327.94 C218.08 328.15 219.09 328.36 220.09 328.57 C221.10 328.77 222.10 328.98 223.11 329.17 C224.11 329.37 225.12 329.56 226.12 329.75 C227.13 329.94 228.13 330.12 229.14 330.30 C230.15 330.48 231.15 330.65 232.16 330.82 C233.16 330.99 234.17 331.16 235.17 331.32 C236.18 331.48 237.18 331.64 238.19 331.80 C239.20 331.95 240.20 332.10 241.21 332.25 C242.21 332.39 243.22 332.53 244.22 332.67 C245.23 332.81 246.23 332.95 247.24 333.08 C248.24 333.21 249.25 333.34 250.26 333.46 C251.26 333.58 252.27 333.70 253.27 333.82 C254.28 333.94 255.28 334.05 256.29 334.16 C257.29 334.27 258.30 334.38 259.30 334.48 C260.31 334.59 261.32 334.69 262.32 334.78 C263.33 334.88 264.33 334.98 265.34 335.07 C266.34 335.16 267.35 335.25 268.35 335.33 C269.36 335.42 270.37 335.50 271.37 335.58 C272.38 335.66 273.38 335.73 274.39 335.81 C275.39 335.88 276.40 335.95 277.40 336.02 C278.41 336.09 279.41 336.16 280.42 336.22 C281.43 336.29 282.43 336.35 283.44 336.41 C284.44 336.46 285.45 336.52 286.45 336.58 C287.46 336.63 288.46 336.68 289.47 336.73 C290.47 336.78 291.48 336.83 292.49 336.88 C293.49 336.92 294.50 336.97 295.50 337.01 C296.51 337.05 297.51 337.09 298.52 337.13 C299.52 337.16 300.53 337.20 301.53 337.24 C302.54 337.27 303.55 337.30 304.55 337.33 C305.56 337.37 306.56 337.40 307.57 337.42 C308.57 337.45 309.58 337.48 310.58 337.50 C311.59 337.53 312.60 337.55 313.60 337.58 C314.61 337.60 315.61 337.62 316.62 337.64 C317.62 337.66 318.63 337.68 319.63 337.70 C320.64 337.72 321.64 337.73 322.65 337.75 C323.66 337.76 324.66 337.78 325.67 337.79 C326.67 337.81 327.68 337.82 328.68 337.83 C329.69 337.85 330.69 337.86 331.70 337.87 C332.70 337.88 333.71 337.89 334.72 337.90 C335.72 337.91 336.73 337.92 337.73 337.93 C338.74 337.94 339.74 337.95 340.75 337.96 C341.75 337.97 342.76 337.97 343.76 337.98 C344.77 337.99 345.78 338.00 346.78 338.00 C347.79 338.01 348.79 338.01 349.80 338.02 C350.80 338.03 351.81 338.03 352.81 338.04 C353.82 338.04 354.83 338.05 355.83 338.05 C356.84 338.05 357.84 338.06 358.85 338.06 C359.85 338.06 360.86 338.07 361.86 338.07 C362.87 338.07 363.87 338.07 364.88 338.08 C365.89 338.08 366.89 338.08 367.90 338.08 C368.90 338.08 369.91 338.08 370.91 338.08 C371.92 338.08 372.92 338.08 373.93 338.09 C374.93 338.09 375.94 338.09 376.95 338.08 C377.95 338.08 378.96 338.08 379.96 338.08 C380.97 338.08 381.97 338.08 382.98 338.08 C383.98 338.08 384.99 338.08 385.99 338.07 C387.00 338.07 388.01 338.07 389.01 338.07 C390.02 338.07 391.02 338.06 392.03 338.06 C393.03 338.06 394.04 338.06 395.04 338.05 C396.05 338.05 397.06 338.05 398.06 338.05 C399.07 338.04 400.07 338.04 401.08 338.04 C402.08 338.03 403.09 338.03 404.09 338.03 C405.10 338.02 406.10 338.02 407.11 338.02 C408.12 338.01 409.12 338.01 410.13 338.00 C411.13 338.00 412.14 338.00 413.14 337.99 C414.15 337.99 415.15 337.99 416.16 337.98 C417.16 337.98 418.17 337.97 419.18 337.97 C420.18 337.97 421.19 337.96 422.19 337.96 C423.20 337.95 424.20 337.95 425.21 337.95 C426.21 337.94 427.22 337.94 428.22 337.93 C429.23 337.93 430.24 337.93 431.24 337.92 C432.25 337.92 433.25 337.92 434.26 337.91 C435.26 337.91 436.27 337.91 437.27 337.90 C438.28 337.90 439.29 337.90 440.29 337.89 C441.30 337.89 442.30 337.89 443.31 337.88 C444.31 337.88 445.32 337.88 446.32 337.88 C447.33 337.87 448.33 337.87 449.34 337.87 C450.35 337.87 451.35 337.86 452.36 337.86 C453.36 337.86 454.37 337.86 455.37 337.86 C456.38 337.86 457.38 337.85 458.39 337.85 C459.39 337.85 460.40 337.85 461.41 337.85 C462.41 337.85 463.42 337.85 464.42 337.85 C465.43 337.85 466.43 337.85 467.44 337.85 C468.44 337.85 469.45 337.85 470.45 337.85 C471.46 337.85 472.47 337.86 473.47 337.86 C474.48 337.86 475.48 337.86 476.49 337.86 C477.49 337.87 478.50 337.87 479.50 337.87 C480.51 337.87 481.52 337.88 482.52 337.88 C483.53 337.89 484.53 337.89 485.54 337.89 C486.54 337.90 487.55 337.90 488.55 337.91 C489.56 337.91 490.56 337.92 491.57 337.93 C492.58 337.93 493.58 337.94 494.59 337.95 C495.59 337.95 496.60 337.96 497.60 337.97 C498.61 337.98 499.61 337.99 500.62 337.99 C501.62 338.00 502.63 338.01 503.64 338.02 C504.64 338.03 505.65 338.04 506.65 338.05 C507.66 338.06 508.66 338.08 509.67 338.09 C510.67 338.10 511.68 338.11 512.68 338.13 C513.69 338.14 514.70 338.15 515.70 338.17 C516.71 338.18 517.71 338.20 518.72 338.21 C519.72 338.23 520.73 338.24 521.73 338.26 C522.74 338.27 523.75 338.29 524.75 338.31 C525.76 338.33 526.76 338.35 527.77 338.36 C528.77 338.38 529.78 338.40 530.78 338.42 C531.79 338.44 532.79 338.47 533.80 338.49" stroke="#8fd05a" stroke-width="2" fill="none" stroke-linejoin="round" stroke-linecap="round"/>
<text x="0.30" y="11.20" class="lab" textLength="9.60" lengthAdjust="spacingAndGlyphs">a</text>
<text x="28.20" y="12.20" class="ta" textLength="50.21" lengthAdjust="spacingAndGlyphs">4.0E-04</text>
<text x="28.20" y="53.74" class="ta" textLength="50.21" lengthAdjust="spacingAndGlyphs">3.5E-04</text>
<text x="28.20" y="95.28" class="ta" textLength="50.21" lengthAdjust="spacingAndGlyphs">3.0E-04</text>
<text x="28.20" y="136.81" class="ta" textLength="50.21" lengthAdjust="spacingAndGlyphs">2.5E-04</text>
<text x="28.20" y="178.35" class="ta" textLength="50.21" lengthAdjust="spacingAndGlyphs">2.0E-04</text>
<text x="28.20" y="219.89" class="ta" textLength="50.21" lengthAdjust="spacingAndGlyphs">1.5E-04</text>
<text x="28.20" y="261.43" class="ta" textLength="50.21" lengthAdjust="spacingAndGlyphs">1.0E-04</text>
<text x="28.20" y="302.96" class="ta" textLength="51.21" lengthAdjust="spacingAndGlyphs">5.0E-05</text>
<text x="24.10" y="344.50" class="ta" textLength="55.33" lengthAdjust="spacingAndGlyphs">0.0E+00</text>
<text x="91.20" y="366.90" class="ta" textLength="9.26" lengthAdjust="spacingAndGlyphs">0</text>
<text x="178.53" y="366.90" class="ta" textLength="16.76" lengthAdjust="spacingAndGlyphs">50</text>
<text x="265.01" y="366.90" class="ta" textLength="25.91" lengthAdjust="spacingAndGlyphs">100</text>
<text x="356.09" y="366.90" class="ta" textLength="26.99" lengthAdjust="spacingAndGlyphs">150</text>
<text x="448.17" y="366.90" class="ta" textLength="25.95" lengthAdjust="spacingAndGlyphs">200</text>
<text x="539.25" y="366.90" class="ta" textLength="25.91" lengthAdjust="spacingAndGlyphs">250</text>
<text x="221.90" y="390.60" class="tab" textLength="206.11" lengthAdjust="spacingAndGlyphs">Approximate plume age (min)</text>
<text transform="translate(16.80 194.90) rotate(-90)" x="0" y="0" class="tab" textLength="41.83" lengthAdjust="spacingAndGlyphs">X/SO<tspan font-size="10" dy="3.6">2</tspan></text>
<text x="622.30" y="122.80" class="lg" textLength="56.11" lengthAdjust="spacingAndGlyphs">HBr/SO<tspan class="sub" dy="1.6">2</tspan></text>
<text x="622.30" y="150.13" class="lg" textLength="58.41" lengthAdjust="spacingAndGlyphs">BrCl/SO<tspan class="sub" dy="1.6">2</tspan></text>
<text x="622.30" y="177.46" class="lg" textLength="46.33" lengthAdjust="spacingAndGlyphs">Br/SO<tspan class="sub" dy="1.6">2</tspan></text>
<text x="622.30" y="204.79" class="lg" textLength="56.62" lengthAdjust="spacingAndGlyphs">BrO/SO<tspan class="sub" dy="1.6">2</tspan></text>
<text x="622.30" y="232.12" class="lg" textLength="67.32" lengthAdjust="spacingAndGlyphs">HOBr/SO<tspan class="sub" dy="1.6">2</tspan></text>
<text x="622.30" y="259.45" class="lg" textLength="84.62" lengthAdjust="spacingAndGlyphs">BrONO<tspan class="sub" dy="1.6">2</tspan><tspan dy="-1.6">/SO</tspan><tspan class="sub" dy="1.6">2</tspan></text>
<text x="622.30" y="286.78" class="lg" textLength="51.41" lengthAdjust="spacingAndGlyphs">Br<tspan class="sub" dy="1.6">2</tspan><tspan dy="-1.6">/SO</tspan><tspan class="sub" dy="1.6">2</tspan></text>
<path d="M600 118.60H620.5" stroke="#b8b8b8" stroke-width="2"/>
<path d="M600 145.77H620.5" stroke="#ffd35e" stroke-width="2"/>
<path d="M600 172.94H620.5" stroke="#3a86cc" stroke-width="2"/>
<path d="M600 200.11H620.5" stroke="#1e1e1e" stroke-width="2"/>
<path d="M600 227.28H620.5" stroke="#ff1f1f" stroke-width="2"/>
<path d="M600 254.45H620.5" stroke="#7b3fb8" stroke-width="2"/>
<path d="M600 281.62H620.5" stroke="#8fd05a" stroke-width="2"/>
<rect x="108.20" y="469.60" width="433.40" height="344.90" fill="#ff8000"/>
<path d="M109.20 612.00 C109.80 611.50 110.47 611.12 111.00 610.50 C111.59 609.81 112.11 609.21 112.50 608.00 C113.29 605.55 113.22 600.41 113.50 596.00 C113.84 590.61 114.07 584.76 114.30 578.00 C114.60 569.27 114.69 557.34 115.00 548.00 C115.27 539.82 115.58 531.85 116.00 525.00 C116.34 519.46 116.61 514.84 117.20 510.00 C117.76 505.42 118.33 500.39 119.40 496.70 C120.21 493.91 120.99 491.23 122.40 489.60 C123.51 488.31 124.91 487.67 126.50 487.10 C128.36 486.44 130.73 486.46 133.00 486.20 C135.48 485.92 137.60 485.96 140.80 485.50 C146.01 484.74 154.38 482.52 161.20 481.40 C167.98 480.29 174.97 479.49 181.60 478.80 C187.88 478.14 193.74 477.91 200.00 477.30 C206.53 476.66 213.70 475.52 220.00 475.00 C225.62 474.54 230.13 474.30 236.00 474.20 C243.19 474.08 250.26 474.53 260.00 474.60 C275.14 474.71 309.24 473.64 318.00 474.50 C320.60 474.75 321.49 474.74 323.00 475.50 C324.61 476.31 325.94 479.45 327.30 479.40 C328.60 479.35 329.30 476.37 331.00 475.50 C333.21 474.37 335.92 474.56 340.00 474.30 C348.57 473.76 366.67 474.55 380.00 474.60 C393.33 474.65 409.29 474.69 420.00 474.60 C427.18 474.54 432.88 474.62 438.00 474.30 C441.83 474.06 444.51 473.52 448.00 473.20 C451.81 472.85 454.83 472.50 460.00 472.30 C469.43 471.93 486.54 472.22 500.00 472.20 C513.73 472.18 527.73 472.20 541.60 472.20 L541.60 814.50 L109.20 814.50 Z" fill="#00ff00" stroke="none"/>
<path d="M109.20 613.00 C110.30 611.67 111.78 608.85 112.50 609.00 C113.10 609.13 113.18 611.43 113.50 612.50 C113.77 613.41 114.03 615.00 114.30 615.00 C114.60 615.00 114.92 613.18 115.20 612.00 C115.60 610.35 115.90 608.42 116.30 606.00 C116.91 602.31 117.61 596.94 118.40 592.00 C119.29 586.44 120.27 580.40 121.40 574.30 C122.62 567.73 124.05 559.83 125.50 553.90 C126.65 549.23 127.78 545.08 129.10 541.50 C130.16 538.64 131.30 536.40 132.50 534.00 C133.64 531.71 134.67 529.91 136.10 527.40 C138.04 523.98 140.70 518.97 143.20 515.40 C145.43 512.23 147.76 509.45 150.20 506.90 C152.47 504.52 154.82 502.24 157.30 500.50 C159.57 498.90 162.02 497.88 164.40 496.70 C166.72 495.55 168.81 494.49 171.40 493.50 C174.45 492.33 178.04 491.12 181.60 490.30 C185.36 489.43 189.02 488.95 193.40 488.50 C198.84 487.94 206.45 487.50 211.80 487.50 C215.94 487.50 219.63 487.46 222.80 488.10 C225.35 488.62 227.71 489.16 229.50 490.50 C231.25 491.81 232.41 493.84 233.50 496.00 C234.78 498.54 235.55 501.92 236.30 505.00 C237.06 508.15 237.50 511.41 238.00 514.70 C238.51 518.08 238.86 521.16 239.30 525.00 C239.86 529.87 240.44 535.59 241.00 541.60 C241.67 548.73 242.38 558.06 243.00 565.00 C243.50 570.55 243.87 575.28 244.40 580.00 C244.88 584.23 245.16 588.62 246.00 592.00 C246.65 594.60 247.52 596.91 248.50 598.70 C249.25 600.06 249.97 601.15 251.00 602.00 C252.01 602.84 252.88 603.36 254.60 603.80 C258.17 604.72 266.15 604.38 272.00 604.50 C277.95 604.62 284.27 604.50 290.00 604.50 C295.23 604.50 300.18 604.50 305.00 604.50 C309.49 604.50 315.04 604.50 318.00 604.50 C319.54 604.50 320.56 605.01 321.50 604.50 C322.53 603.94 323.21 602.87 323.80 601.00 C325.42 595.90 324.52 581.56 324.80 570.00 C325.15 555.32 325.20 533.47 325.60 520.00 C325.87 510.86 326.00 502.76 326.60 497.00 C326.97 493.50 326.83 490.91 328.00 488.60 C329.07 486.49 331.03 484.76 333.00 483.50 C335.01 482.21 337.35 481.65 340.00 481.00 C343.30 480.19 346.73 479.86 351.40 479.40 C358.77 478.68 369.66 478.10 380.00 477.80 C392.21 477.44 408.23 477.71 420.00 477.70 C429.31 477.69 439.26 477.01 445.00 477.70 C448.08 478.07 450.27 478.32 452.00 479.40 C453.39 480.27 454.13 481.49 455.00 483.00 C456.15 484.99 456.96 487.54 457.80 490.60 C459.00 494.99 459.86 502.08 460.80 507.00 C461.57 511.04 462.17 514.77 463.00 518.00 C463.67 520.62 464.13 523.35 465.20 525.00 C465.96 526.18 466.95 526.93 468.00 527.50 C469.00 528.04 469.46 528.15 471.30 528.40 C479.62 529.51 518.17 528.40 541.60 528.40 L541.60 814.50 L109.20 814.50 Z" fill="#800080" stroke="none"/>
<path d="M109.20 613.00 C110.30 611.67 111.78 608.85 112.50 609.00 C113.10 609.13 113.18 611.43 113.50 612.50 C113.77 613.41 114.03 615.00 114.30 615.00 C114.60 615.00 114.92 613.18 115.20 612.00 C115.60 610.35 115.90 608.42 116.30 606.00 C116.91 602.31 117.61 596.94 118.40 592.00 C119.29 586.44 120.26 580.35 121.40 574.30 C122.61 567.87 123.58 559.79 125.50 554.50 C126.90 550.64 129.28 547.39 130.60 545.00 C131.41 543.54 131.72 543.01 132.60 541.50 C134.23 538.69 137.23 533.17 139.70 529.50 C141.95 526.16 144.26 523.09 146.70 520.30 C148.97 517.70 151.32 515.14 153.80 513.20 C156.04 511.45 158.41 510.18 160.80 509.00 C163.11 507.86 165.50 507.00 167.90 506.20 C170.27 505.41 172.12 504.77 175.10 504.20 C179.77 503.30 187.28 502.43 193.40 502.20 C199.52 501.97 206.57 502.41 211.80 502.80 C215.70 503.09 219.32 503.32 222.00 504.00 C223.84 504.47 225.08 505.05 226.50 505.80 C227.91 506.55 229.30 507.41 230.50 508.50 C231.74 509.63 232.91 510.94 233.80 512.50 C234.79 514.23 235.39 516.44 236.00 518.50 C236.63 520.60 237.03 522.08 237.50 525.00 C238.45 530.87 239.12 542.57 240.00 551.80 C240.94 561.66 241.88 574.26 243.00 582.40 C243.75 587.86 244.59 591.82 245.40 596.00 C246.09 599.60 246.24 603.37 247.50 606.00 C248.49 608.07 249.95 610.43 251.50 610.90 C252.84 611.30 254.52 610.15 256.00 609.50 C257.59 608.81 259.25 607.50 260.70 606.80 C261.87 606.23 262.63 605.83 264.00 605.50 C266.06 605.00 268.80 604.88 272.00 604.70 C276.80 604.43 284.27 604.53 290.00 604.50 C295.23 604.47 300.18 604.50 305.00 604.50 C309.49 604.50 315.04 604.50 318.00 604.50 C319.54 604.50 320.27 604.64 321.50 604.50 C322.91 604.34 324.87 604.65 326.00 603.50 C327.88 601.59 327.86 595.27 328.60 591.00 C329.37 586.55 329.79 581.97 330.50 577.30 C331.25 572.41 332.18 567.40 333.00 562.30 C333.85 557.01 334.67 551.50 335.50 546.10 C336.33 540.70 337.25 534.95 338.00 529.90 C338.66 525.47 338.99 521.17 339.80 517.40 C340.48 514.21 340.99 511.08 342.30 508.70 C343.42 506.65 344.79 505.08 346.70 503.70 C348.97 502.06 351.67 500.94 355.40 500.00 C361.43 498.49 370.80 498.19 380.00 497.80 C391.71 497.31 407.67 497.59 420.00 498.00 C430.61 498.35 444.73 497.93 449.60 499.80 C451.46 500.51 452.02 501.38 453.00 502.50 C454.08 503.73 454.81 505.07 455.70 507.00 C457.09 510.02 458.55 515.31 459.80 519.20 C460.93 522.74 461.60 526.85 462.90 529.40 C463.80 531.17 464.80 532.66 466.00 533.50 C466.99 534.19 467.88 534.36 469.30 534.50 C471.75 534.74 475.72 534.04 479.50 533.50 C484.31 532.81 491.12 531.00 495.80 530.40 C499.29 529.96 500.91 529.95 505.00 529.80 C513.15 529.50 529.40 529.60 541.60 529.50 L541.60 814.50 L109.20 814.50 Z" fill="#ff0000" stroke="none"/>
<path d="M109.20 614.00 C110.30 612.67 111.78 609.87 112.50 610.00 C113.06 610.10 113.21 611.95 113.50 613.00 C113.81 614.11 114.05 614.91 114.30 616.50 C114.82 619.82 114.64 631.79 115.60 632.00 C116.05 632.10 116.75 630.42 117.30 629.00 C118.41 626.11 118.98 619.87 120.40 615.10 C121.97 609.83 124.10 603.17 126.50 598.80 C128.35 595.44 130.61 591.98 132.70 590.60 C134.02 589.72 135.25 589.44 136.70 589.60 C138.58 589.81 140.92 590.95 142.90 592.70 C145.78 595.25 148.18 600.52 151.00 604.90 C154.24 609.92 157.57 616.42 161.20 621.20 C164.42 625.45 167.77 629.41 171.40 632.40 C174.62 635.05 178.14 637.35 181.60 638.60 C184.69 639.72 187.93 640.27 191.00 640.00 C194.07 639.73 197.23 639.13 200.00 637.00 C203.92 633.99 207.34 626.51 210.40 621.20 C213.30 616.17 215.23 610.82 218.00 606.00 C220.68 601.34 224.40 596.73 226.70 592.70 C228.50 589.55 229.24 586.33 231.00 584.00 C232.50 582.02 234.76 578.94 236.20 579.30 C238.07 579.76 239.08 586.16 240.30 590.50 C241.92 596.24 243.28 604.29 244.40 610.90 C245.45 617.10 245.60 628.82 246.90 629.00 C247.74 629.12 248.74 624.37 250.00 622.00 C251.39 619.37 253.19 616.27 255.00 614.00 C256.56 612.04 258.33 610.21 260.00 609.00 C261.33 608.04 262.40 607.61 264.00 607.00 C266.18 606.17 268.76 605.26 272.00 604.80 C276.77 604.12 284.27 604.55 290.00 604.50 C295.23 604.46 300.18 604.50 305.00 604.50 C309.49 604.50 315.19 604.50 318.00 604.50 C319.35 604.50 320.24 605.18 321.00 604.50 C322.67 602.99 322.01 594.60 322.50 590.00 C322.94 585.81 322.76 580.01 323.80 578.00 C324.25 577.13 325.04 576.34 325.50 576.50 C326.40 576.82 326.56 581.67 327.00 585.00 C327.62 589.68 327.99 596.83 328.50 602.00 C328.93 606.35 328.96 613.83 329.80 614.00 C330.25 614.09 330.89 612.14 331.50 611.00 C332.27 609.55 333.04 607.00 334.00 606.00 C334.61 605.36 335.41 604.71 336.00 604.90 C336.83 605.16 337.39 607.22 338.00 609.00 C339.01 611.94 339.65 616.61 340.60 621.20 C341.83 627.13 343.55 636.02 344.70 641.60 C345.50 645.49 345.92 647.25 346.80 651.50 C348.39 659.19 350.23 674.96 353.30 683.90 C355.64 690.72 358.29 696.64 361.90 701.10 C364.96 704.88 368.45 707.58 372.70 709.70 C377.45 712.07 384.46 714.02 389.40 714.00 C393.33 713.99 396.41 712.92 400.00 711.20 C404.45 709.07 409.48 705.25 413.60 701.20 C418.04 696.83 422.08 691.08 425.50 685.60 C428.86 680.21 431.54 674.75 434.00 668.60 C436.72 661.82 438.78 653.75 440.80 646.50 C442.73 639.59 444.23 633.04 445.90 626.10 C447.63 618.89 449.48 610.69 451.00 604.00 C452.26 598.44 453.55 592.20 454.40 588.70 C454.85 586.86 454.96 585.71 455.50 584.50 C455.97 583.46 456.45 582.63 457.30 581.80 C458.39 580.75 460.66 580.25 461.80 579.00 C462.92 577.77 463.21 576.19 464.10 574.40 C465.35 571.90 466.98 568.48 468.60 565.40 C470.36 562.06 472.19 558.35 474.30 555.10 C476.37 551.92 478.79 548.98 481.10 546.10 C483.33 543.32 485.64 540.30 487.90 538.10 C489.77 536.28 491.66 534.68 493.50 533.60 C495.01 532.71 496.31 532.28 498.00 531.80 C500.05 531.22 501.74 530.92 505.00 530.60 C512.41 529.87 529.40 529.93 541.60 529.60 L541.60 814.50 L109.20 814.50 Z" fill="#000000" stroke="none"/>
<path d="M113.40 814.50 C113.43 793.83 112.86 752.53 113.50 752.50 C113.80 752.49 114.35 761.38 114.80 766.00 C115.28 770.87 115.65 776.40 116.30 781.00 C116.86 784.96 117.51 789.39 118.30 792.00 C118.76 793.53 119.06 794.80 119.80 795.50 C120.38 796.05 120.89 796.12 122.00 796.30 C125.08 796.80 133.84 795.95 140.00 795.80 C146.49 795.64 153.03 795.51 160.00 795.40 C167.64 795.28 176.27 795.11 184.00 795.10 C191.23 795.09 198.21 795.25 205.00 795.30 C211.39 795.35 219.26 795.55 223.60 795.40 C225.94 795.32 227.37 795.41 229.00 795.00 C230.47 794.63 231.85 793.85 233.00 793.20 C233.96 792.66 234.76 792.47 235.50 791.50 C236.81 789.79 237.78 785.73 238.60 782.60 C239.48 779.25 239.93 775.48 240.50 772.00 C241.05 768.65 241.56 765.86 242.00 762.10 C242.57 757.18 242.97 750.68 243.40 745.00 C243.83 739.35 244.12 734.71 244.60 728.10 C245.28 718.71 246.17 703.56 247.10 694.00 C247.78 687.04 248.55 681.72 249.30 676.00 C249.99 670.77 250.53 666.61 251.40 661.00 C252.52 653.80 254.23 643.48 255.60 636.40 C256.65 630.98 257.31 626.71 258.70 622.10 C260.06 617.58 261.38 611.69 263.80 609.00 C265.51 607.10 267.99 606.44 270.00 605.80 C271.71 605.26 272.88 605.29 275.00 605.10 C278.65 604.77 285.00 604.60 290.00 604.50 C295.00 604.40 300.18 604.50 305.00 604.50 C309.49 604.50 315.36 604.50 318.00 604.50 C319.16 604.50 319.78 604.24 320.50 604.50 C321.20 604.75 321.83 605.02 322.30 606.00 C323.82 609.12 322.62 620.84 323.00 630.00 C323.51 642.26 324.57 658.65 325.30 673.00 C326.03 687.38 326.52 701.81 327.40 716.20 C328.28 730.58 329.25 746.41 330.60 759.30 C331.71 769.85 332.80 780.74 334.50 788.00 C335.57 792.59 336.55 796.54 338.20 799.00 C339.29 800.62 340.47 801.58 342.00 802.30 C343.68 803.09 345.65 803.08 348.00 803.30 C351.30 803.62 355.78 803.63 360.00 803.60 C364.72 803.56 370.09 803.33 375.00 803.00 C379.75 802.68 384.26 802.19 389.00 801.70 C393.92 801.19 399.01 800.68 404.00 800.00 C409.01 799.32 414.19 798.47 419.00 797.60 C423.50 796.79 428.15 796.15 432.00 795.00 C435.24 794.03 438.22 792.84 440.70 791.50 C442.76 790.39 444.47 789.10 446.00 787.80 C447.35 786.65 448.41 785.61 449.50 784.20 C450.76 782.58 451.97 780.73 453.00 778.50 C454.28 775.72 455.32 772.47 456.20 768.60 C457.38 763.39 458.00 756.46 458.70 749.90 C459.47 742.66 459.95 734.56 460.50 727.00 C461.04 719.59 461.40 712.15 462.00 705.00 C462.57 698.17 463.30 691.39 464.00 685.00 C464.64 679.10 465.42 673.75 466.00 668.00 C466.59 662.09 467.00 656.00 467.50 650.00 C468.00 644.00 468.48 637.39 469.00 632.00 C469.42 627.59 469.80 623.96 470.30 620.00 C470.80 616.10 471.38 612.49 472.00 608.40 C472.70 603.79 473.54 598.50 474.30 593.70 C475.04 589.08 475.71 584.42 476.50 580.10 C477.22 576.15 477.86 572.55 478.80 568.80 C479.75 564.99 480.86 561.05 482.20 557.40 C483.50 553.86 484.92 550.30 486.70 547.20 C488.36 544.30 490.37 541.51 492.40 539.30 C494.17 537.38 495.92 535.78 498.00 534.50 C500.11 533.20 502.41 532.31 505.00 531.60 C507.99 530.79 510.86 530.54 515.00 530.20 C521.73 529.66 532.73 529.80 541.60 529.60 L541.60 814.50 L113.40 814.50 Z" fill="#0000ff" stroke="none"/>
<path d="M113.40 814.50 C113.43 793.83 112.86 752.53 113.50 752.50 C113.80 752.49 114.35 761.38 114.80 766.00 C115.28 770.87 115.65 776.40 116.30 781.00 C116.86 784.96 117.66 788.75 118.30 792.00 C118.81 794.60 119.23 796.82 119.80 799.00 C120.31 800.96 120.65 802.77 121.50 804.50 C122.37 806.28 123.44 808.32 125.00 809.50 C126.59 810.71 128.54 811.23 131.00 811.60 C134.65 812.15 139.97 811.51 145.00 811.10 C150.93 810.61 157.83 809.48 164.30 808.60 C170.86 807.71 177.49 806.63 184.10 805.80 C190.72 804.97 197.39 804.34 204.00 803.60 C210.56 802.87 218.57 802.64 223.60 801.40 C226.92 800.59 229.55 799.79 231.60 798.30 C233.34 797.03 234.43 795.56 235.50 793.50 C236.95 790.71 237.76 786.23 238.60 782.60 C239.42 779.06 239.93 775.48 240.50 772.00 C241.05 768.65 241.56 765.86 242.00 762.10 C242.57 757.18 242.97 750.68 243.40 745.00 C243.83 739.35 244.12 734.71 244.60 728.10 C245.28 718.71 246.17 703.56 247.10 694.00 C247.78 687.04 248.55 681.72 249.30 676.00 C249.99 670.77 250.53 666.61 251.40 661.00 C252.52 653.80 254.23 643.48 255.60 636.40 C256.65 630.98 257.31 626.71 258.70 622.10 C260.06 617.58 261.38 611.69 263.80 609.00 C265.51 607.10 267.99 606.44 270.00 605.80 C271.71 605.26 272.88 605.29 275.00 605.10 C278.65 604.77 285.00 604.60 290.00 604.50 C295.00 604.40 300.18 604.50 305.00 604.50 C309.49 604.50 315.36 604.50 318.00 604.50 C319.16 604.50 319.78 604.24 320.50 604.50 C321.20 604.75 321.83 605.02 322.30 606.00 C323.82 609.12 322.62 620.84 323.00 630.00 C323.51 642.26 324.57 658.65 325.30 673.00 C326.03 687.38 326.52 701.81 327.40 716.20 C328.28 730.58 329.26 746.28 330.60 759.30 C331.71 770.14 332.82 781.08 334.50 789.00 C335.65 794.43 336.77 799.59 338.50 802.50 C339.53 804.23 340.54 805.20 342.00 806.00 C343.63 806.89 345.64 807.04 348.00 807.30 C351.30 807.67 355.78 807.51 360.00 807.40 C364.72 807.28 370.09 806.82 375.00 806.50 C379.75 806.19 384.26 805.97 389.00 805.50 C393.92 805.01 399.01 804.35 404.00 803.60 C409.01 802.85 414.40 801.90 419.00 801.00 C422.96 800.23 426.76 799.44 430.00 798.60 C432.61 797.92 434.92 797.29 437.00 796.50 C438.75 795.83 440.24 795.29 441.70 794.30 C443.25 793.25 444.68 791.71 446.00 790.30 C447.28 788.93 448.41 787.64 449.50 786.00 C450.76 784.11 451.97 782.01 453.00 779.50 C454.28 776.39 455.32 772.76 456.20 768.60 C457.34 763.24 458.00 756.46 458.70 749.90 C459.47 742.66 459.95 734.56 460.50 727.00 C461.04 719.59 461.40 712.15 462.00 705.00 C462.57 698.17 463.30 691.39 464.00 685.00 C464.64 679.10 465.42 673.75 466.00 668.00 C466.59 662.09 467.00 656.00 467.50 650.00 C468.00 644.00 468.48 637.39 469.00 632.00 C469.42 627.59 469.80 623.96 470.30 620.00 C470.80 616.10 471.38 612.49 472.00 608.40 C472.70 603.79 473.54 598.50 474.30 593.70 C475.04 589.08 475.71 584.42 476.50 580.10 C477.22 576.15 477.86 572.55 478.80 568.80 C479.75 564.99 480.86 561.05 482.20 557.40 C483.50 553.86 484.92 550.30 486.70 547.20 C488.36 544.30 490.37 541.51 492.40 539.30 C494.17 537.38 495.92 535.78 498.00 534.50 C500.11 533.20 502.41 532.31 505.00 531.60 C507.99 530.79 510.86 530.54 515.00 530.20 C521.73 529.66 532.73 529.80 541.60 529.60 L541.60 814.50 L113.40 814.50 Z" fill="#ffff00" stroke="none"/>
<path d="M108.2 640 L109.8 640 L110.3 760 L110.8 814.5 L108.2 814.5Z" fill="#8c8c8c"/>
<path d="M109.20 612.00 C109.80 611.50 110.47 611.12 111.00 610.50 C111.59 609.81 112.11 609.21 112.50 608.00 C113.29 605.55 113.22 600.41 113.50 596.00 C113.84 590.61 114.07 584.76 114.30 578.00 C114.60 569.27 114.69 557.34 115.00 548.00 C115.27 539.82 115.58 531.85 116.00 525.00 C116.34 519.46 116.61 514.84 117.20 510.00 C117.76 505.42 118.33 500.39 119.40 496.70 C120.21 493.91 120.99 491.23 122.40 489.60 C123.51 488.31 124.91 487.67 126.50 487.10 C128.36 486.44 130.73 486.46 133.00 486.20 C135.48 485.92 137.60 485.96 140.80 485.50 C146.01 484.74 154.38 482.52 161.20 481.40 C167.98 480.29 174.97 479.49 181.60 478.80 C187.88 478.14 193.74 477.91 200.00 477.30 C206.53 476.66 213.70 475.52 220.00 475.00 C225.62 474.54 230.13 474.30 236.00 474.20 C243.19 474.08 250.26 474.53 260.00 474.60 C275.14 474.71 309.24 473.64 318.00 474.50 C320.60 474.75 321.49 474.74 323.00 475.50 C324.61 476.31 325.94 479.45 327.30 479.40 C328.60 479.35 329.30 476.37 331.00 475.50 C333.21 474.37 335.92 474.56 340.00 474.30 C348.57 473.76 366.67 474.55 380.00 474.60 C393.33 474.65 409.29 474.69 420.00 474.60 C427.18 474.54 432.88 474.62 438.00 474.30 C441.83 474.06 444.51 473.52 448.00 473.20 C451.81 472.85 454.83 472.50 460.00 472.30 C469.43 471.93 486.54 472.22 500.00 472.20 C513.73 472.18 527.73 472.20 541.60 472.20" fill="none" stroke="#000" stroke-width="1.7" stroke-linejoin="round"/>
<path d="M109.20 613.00 C110.30 611.67 111.78 608.85 112.50 609.00 C113.10 609.13 113.18 611.43 113.50 612.50 C113.77 613.41 114.03 615.00 114.30 615.00 C114.60 615.00 114.92 613.18 115.20 612.00 C115.60 610.35 115.90 608.42 116.30 606.00 C116.91 602.31 117.61 596.94 118.40 592.00 C119.29 586.44 120.27 580.40 121.40 574.30 C122.62 567.73 124.05 559.83 125.50 553.90 C126.65 549.23 127.78 545.08 129.10 541.50 C130.16 538.64 131.30 536.40 132.50 534.00 C133.64 531.71 134.67 529.91 136.10 527.40 C138.04 523.98 140.70 518.97 143.20 515.40 C145.43 512.23 147.76 509.45 150.20 506.90 C152.47 504.52 154.82 502.24 157.30 500.50 C159.57 498.90 162.02 497.88 164.40 496.70 C166.72 495.55 168.81 494.49 171.40 493.50 C174.45 492.33 178.04 491.12 181.60 490.30 C185.36 489.43 189.02 488.95 193.40 488.50 C198.84 487.94 206.45 487.50 211.80 487.50 C215.94 487.50 219.63 487.46 222.80 488.10 C225.35 488.62 227.71 489.16 229.50 490.50 C231.25 491.81 232.41 493.84 233.50 496.00 C234.78 498.54 235.55 501.92 236.30 505.00 C237.06 508.15 237.50 511.41 238.00 514.70 C238.51 518.08 238.86 521.16 239.30 525.00 C239.86 529.87 240.44 535.59 241.00 541.60 C241.67 548.73 242.38 558.06 243.00 565.00 C243.50 570.55 243.87 575.28 244.40 580.00 C244.88 584.23 245.16 588.62 246.00 592.00 C246.65 594.60 247.52 596.91 248.50 598.70 C249.25 600.06 249.97 601.15 251.00 602.00 C252.01 602.84 252.88 603.36 254.60 603.80 C258.17 604.72 266.15 604.38 272.00 604.50 C277.95 604.62 284.27 604.50 290.00 604.50 C295.23 604.50 300.18 604.50 305.00 604.50 C309.49 604.50 315.04 604.50 318.00 604.50 C319.54 604.50 320.56 605.01 321.50 604.50 C322.53 603.94 323.21 602.87 323.80 601.00 C325.42 595.90 324.52 581.56 324.80 570.00 C325.15 555.32 325.20 533.47 325.60 520.00 C325.87 510.86 326.00 502.76 326.60 497.00 C326.97 493.50 326.83 490.91 328.00 488.60 C329.07 486.49 331.03 484.76 333.00 483.50 C335.01 482.21 337.35 481.65 340.00 481.00 C343.30 480.19 346.73 479.86 351.40 479.40 C358.77 478.68 369.66 478.10 380.00 477.80 C392.21 477.44 408.23 477.71 420.00 477.70 C429.31 477.69 439.26 477.01 445.00 477.70 C448.08 478.07 450.27 478.32 452.00 479.40 C453.39 480.27 454.13 481.49 455.00 483.00 C456.15 484.99 456.96 487.54 457.80 490.60 C459.00 494.99 459.86 502.08 460.80 507.00 C461.57 511.04 462.17 514.77 463.00 518.00 C463.67 520.62 464.13 523.35 465.20 525.00 C465.96 526.18 466.95 526.93 468.00 527.50 C469.00 528.04 469.46 528.15 471.30 528.40 C479.62 529.51 518.17 528.40 541.60 528.40" fill="none" stroke="#000" stroke-width="1.7" stroke-linejoin="round"/>
<path d="M109.20 613.00 C110.30 611.67 111.78 608.85 112.50 609.00 C113.10 609.13 113.18 611.43 113.50 612.50 C113.77 613.41 114.03 615.00 114.30 615.00 C114.60 615.00 114.92 613.18 115.20 612.00 C115.60 610.35 115.90 608.42 116.30 606.00 C116.91 602.31 117.61 596.94 118.40 592.00 C119.29 586.44 120.26 580.35 121.40 574.30 C122.61 567.87 123.58 559.79 125.50 554.50 C126.90 550.64 129.28 547.39 130.60 545.00 C131.41 543.54 131.72 543.01 132.60 541.50 C134.23 538.69 137.23 533.17 139.70 529.50 C141.95 526.16 144.26 523.09 146.70 520.30 C148.97 517.70 151.32 515.14 153.80 513.20 C156.04 511.45 158.41 510.18 160.80 509.00 C163.11 507.86 165.50 507.00 167.90 506.20 C170.27 505.41 172.12 504.77 175.10 504.20 C179.77 503.30 187.28 502.43 193.40 502.20 C199.52 501.97 206.57 502.41 211.80 502.80 C215.70 503.09 219.32 503.32 222.00 504.00 C223.84 504.47 225.08 505.05 226.50 505.80 C227.91 506.55 229.30 507.41 230.50 508.50 C231.74 509.63 232.91 510.94 233.80 512.50 C234.79 514.23 235.39 516.44 236.00 518.50 C236.63 520.60 237.03 522.08 237.50 525.00 C238.45 530.87 239.12 542.57 240.00 551.80 C240.94 561.66 241.88 574.26 243.00 582.40 C243.75 587.86 244.59 591.82 245.40 596.00 C246.09 599.60 246.24 603.37 247.50 606.00 C248.49 608.07 249.95 610.43 251.50 610.90 C252.84 611.30 254.52 610.15 256.00 609.50 C257.59 608.81 259.25 607.50 260.70 606.80 C261.87 606.23 262.63 605.83 264.00 605.50 C266.06 605.00 268.80 604.88 272.00 604.70 C276.80 604.43 284.27 604.53 290.00 604.50 C295.23 604.47 300.18 604.50 305.00 604.50 C309.49 604.50 315.04 604.50 318.00 604.50 C319.54 604.50 320.27 604.64 321.50 604.50 C322.91 604.34 324.87 604.65 326.00 603.50 C327.88 601.59 327.86 595.27 328.60 591.00 C329.37 586.55 329.79 581.97 330.50 577.30 C331.25 572.41 332.18 567.40 333.00 562.30 C333.85 557.01 334.67 551.50 335.50 546.10 C336.33 540.70 337.25 534.95 338.00 529.90 C338.66 525.47 338.99 521.17 339.80 517.40 C340.48 514.21 340.99 511.08 342.30 508.70 C343.42 506.65 344.79 505.08 346.70 503.70 C348.97 502.06 351.67 500.94 355.40 500.00 C361.43 498.49 370.80 498.19 380.00 497.80 C391.71 497.31 407.67 497.59 420.00 498.00 C430.61 498.35 444.73 497.93 449.60 499.80 C451.46 500.51 452.02 501.38 453.00 502.50 C454.08 503.73 454.81 505.07 455.70 507.00 C457.09 510.02 458.55 515.31 459.80 519.20 C460.93 522.74 461.60 526.85 462.90 529.40 C463.80 531.17 464.80 532.66 466.00 533.50 C466.99 534.19 467.88 534.36 469.30 534.50 C471.75 534.74 475.72 534.04 479.50 533.50 C484.31 532.81 491.12 531.00 495.80 530.40 C499.29 529.96 500.91 529.95 505.00 529.80 C513.15 529.50 529.40 529.60 541.60 529.50" fill="none" stroke="#000" stroke-width="1.7" stroke-linejoin="round"/>
<path d="M109.20 614.00 C110.30 612.67 111.78 609.87 112.50 610.00 C113.06 610.10 113.21 611.95 113.50 613.00 C113.81 614.11 114.05 614.91 114.30 616.50 C114.82 619.82 114.64 631.79 115.60 632.00 C116.05 632.10 116.75 630.42 117.30 629.00 C118.41 626.11 118.98 619.87 120.40 615.10 C121.97 609.83 124.10 603.17 126.50 598.80 C128.35 595.44 130.61 591.98 132.70 590.60 C134.02 589.72 135.25 589.44 136.70 589.60 C138.58 589.81 140.92 590.95 142.90 592.70 C145.78 595.25 148.18 600.52 151.00 604.90 C154.24 609.92 157.57 616.42 161.20 621.20 C164.42 625.45 167.77 629.41 171.40 632.40 C174.62 635.05 178.14 637.35 181.60 638.60 C184.69 639.72 187.93 640.27 191.00 640.00 C194.07 639.73 197.23 639.13 200.00 637.00 C203.92 633.99 207.34 626.51 210.40 621.20 C213.30 616.17 215.23 610.82 218.00 606.00 C220.68 601.34 224.40 596.73 226.70 592.70 C228.50 589.55 229.24 586.33 231.00 584.00 C232.50 582.02 234.76 578.94 236.20 579.30 C238.07 579.76 239.08 586.16 240.30 590.50 C241.92 596.24 243.28 604.29 244.40 610.90 C245.45 617.10 245.60 628.82 246.90 629.00 C247.74 629.12 248.74 624.37 250.00 622.00 C251.39 619.37 253.19 616.27 255.00 614.00 C256.56 612.04 258.33 610.21 260.00 609.00 C261.33 608.04 262.40 607.61 264.00 607.00 C266.18 606.17 268.76 605.26 272.00 604.80 C276.77 604.12 284.27 604.55 290.00 604.50 C295.23 604.46 300.18 604.50 305.00 604.50 C309.49 604.50 315.19 604.50 318.00 604.50 C319.35 604.50 320.24 605.18 321.00 604.50 C322.67 602.99 322.01 594.60 322.50 590.00 C322.94 585.81 322.76 580.01 323.80 578.00 C324.25 577.13 325.04 576.34 325.50 576.50 C326.40 576.82 326.56 581.67 327.00 585.00 C327.62 589.68 327.99 596.83 328.50 602.00 C328.93 606.35 328.96 613.83 329.80 614.00 C330.25 614.09 330.89 612.14 331.50 611.00 C332.27 609.55 333.04 607.00 334.00 606.00 C334.61 605.36 335.41 604.71 336.00 604.90 C336.83 605.16 337.39 607.22 338.00 609.00 C339.01 611.94 339.65 616.61 340.60 621.20 C341.83 627.13 343.55 636.02 344.70 641.60 C345.50 645.49 345.92 647.25 346.80 651.50 C348.39 659.19 350.23 674.96 353.30 683.90 C355.64 690.72 358.29 696.64 361.90 701.10 C364.96 704.88 368.45 707.58 372.70 709.70 C377.45 712.07 384.46 714.02 389.40 714.00 C393.33 713.99 396.41 712.92 400.00 711.20 C404.45 709.07 409.48 705.25 413.60 701.20 C418.04 696.83 422.08 691.08 425.50 685.60 C428.86 680.21 431.54 674.75 434.00 668.60 C436.72 661.82 438.78 653.75 440.80 646.50 C442.73 639.59 444.23 633.04 445.90 626.10 C447.63 618.89 449.48 610.69 451.00 604.00 C452.26 598.44 453.55 592.20 454.40 588.70 C454.85 586.86 454.96 585.71 455.50 584.50 C455.97 583.46 456.45 582.63 457.30 581.80 C458.39 580.75 460.66 580.25 461.80 579.00 C462.92 577.77 463.21 576.19 464.10 574.40 C465.35 571.90 466.98 568.48 468.60 565.40 C470.36 562.06 472.19 558.35 474.30 555.10 C476.37 551.92 478.79 548.98 481.10 546.10 C483.33 543.32 485.64 540.30 487.90 538.10 C489.77 536.28 491.66 534.68 493.50 533.60 C495.01 532.71 496.31 532.28 498.00 531.80 C500.05 531.22 501.74 530.92 505.00 530.60 C512.41 529.87 529.40 529.93 541.60 529.60" fill="none" stroke="#000" stroke-width="1.7" stroke-linejoin="round"/>
<path d="M113.40 814.50 C113.43 793.83 112.86 752.53 113.50 752.50 C113.80 752.49 114.35 761.38 114.80 766.00 C115.28 770.87 115.65 776.40 116.30 781.00 C116.86 784.96 117.51 789.39 118.30 792.00 C118.76 793.53 119.06 794.80 119.80 795.50 C120.38 796.05 120.89 796.12 122.00 796.30 C125.08 796.80 133.84 795.95 140.00 795.80 C146.49 795.64 153.03 795.51 160.00 795.40 C167.64 795.28 176.27 795.11 184.00 795.10 C191.23 795.09 198.21 795.25 205.00 795.30 C211.39 795.35 219.26 795.55 223.60 795.40 C225.94 795.32 227.37 795.41 229.00 795.00 C230.47 794.63 231.85 793.85 233.00 793.20 C233.96 792.66 234.76 792.47 235.50 791.50 C236.81 789.79 237.78 785.73 238.60 782.60 C239.48 779.25 239.93 775.48 240.50 772.00 C241.05 768.65 241.56 765.86 242.00 762.10 C242.57 757.18 242.97 750.68 243.40 745.00 C243.83 739.35 244.12 734.71 244.60 728.10 C245.28 718.71 246.17 703.56 247.10 694.00 C247.78 687.04 248.55 681.72 249.30 676.00 C249.99 670.77 250.53 666.61 251.40 661.00 C252.52 653.80 254.23 643.48 255.60 636.40 C256.65 630.98 257.31 626.71 258.70 622.10 C260.06 617.58 261.38 611.69 263.80 609.00 C265.51 607.10 267.99 606.44 270.00 605.80 C271.71 605.26 272.88 605.29 275.00 605.10 C278.65 604.77 285.00 604.60 290.00 604.50 C295.00 604.40 300.18 604.50 305.00 604.50 C309.49 604.50 315.36 604.50 318.00 604.50 C319.16 604.50 319.78 604.24 320.50 604.50 C321.20 604.75 321.83 605.02 322.30 606.00 C323.82 609.12 322.62 620.84 323.00 630.00 C323.51 642.26 324.57 658.65 325.30 673.00 C326.03 687.38 326.52 701.81 327.40 716.20 C328.28 730.58 329.25 746.41 330.60 759.30 C331.71 769.85 332.80 780.74 334.50 788.00 C335.57 792.59 336.55 796.54 338.20 799.00 C339.29 800.62 340.47 801.58 342.00 802.30 C343.68 803.09 345.65 803.08 348.00 803.30 C351.30 803.62 355.78 803.63 360.00 803.60 C364.72 803.56 370.09 803.33 375.00 803.00 C379.75 802.68 384.26 802.19 389.00 801.70 C393.92 801.19 399.01 800.68 404.00 800.00 C409.01 799.32 414.19 798.47 419.00 797.60 C423.50 796.79 428.15 796.15 432.00 795.00 C435.24 794.03 438.22 792.84 440.70 791.50 C442.76 790.39 444.47 789.10 446.00 787.80 C447.35 786.65 448.41 785.61 449.50 784.20 C450.76 782.58 451.97 780.73 453.00 778.50 C454.28 775.72 455.32 772.47 456.20 768.60 C457.38 763.39 458.00 756.46 458.70 749.90 C459.47 742.66 459.95 734.56 460.50 727.00 C461.04 719.59 461.40 712.15 462.00 705.00 C462.57 698.17 463.30 691.39 464.00 685.00 C464.64 679.10 465.42 673.75 466.00 668.00 C466.59 662.09 467.00 656.00 467.50 650.00 C468.00 644.00 468.48 637.39 469.00 632.00 C469.42 627.59 469.80 623.96 470.30 620.00 C470.80 616.10 471.38 612.49 472.00 608.40 C472.70 603.79 473.54 598.50 474.30 593.70 C475.04 589.08 475.71 584.42 476.50 580.10 C477.22 576.15 477.86 572.55 478.80 568.80 C479.75 564.99 480.86 561.05 482.20 557.40 C483.50 553.86 484.92 550.30 486.70 547.20 C488.36 544.30 490.37 541.51 492.40 539.30 C494.17 537.38 495.92 535.78 498.00 534.50 C500.11 533.20 502.41 532.31 505.00 531.60 C507.99 530.79 510.86 530.54 515.00 530.20 C521.73 529.66 532.73 529.80 541.60 529.60" fill="none" stroke="#000" stroke-width="1.7" stroke-linejoin="round"/>
<path d="M113.40 814.50 C113.43 793.83 112.86 752.53 113.50 752.50 C113.80 752.49 114.35 761.38 114.80 766.00 C115.28 770.87 115.65 776.40 116.30 781.00 C116.86 784.96 117.66 788.75 118.30 792.00 C118.81 794.60 119.23 796.82 119.80 799.00 C120.31 800.96 120.65 802.77 121.50 804.50 C122.37 806.28 123.44 808.32 125.00 809.50 C126.59 810.71 128.54 811.23 131.00 811.60 C134.65 812.15 139.97 811.51 145.00 811.10 C150.93 810.61 157.83 809.48 164.30 808.60 C170.86 807.71 177.49 806.63 184.10 805.80 C190.72 804.97 197.39 804.34 204.00 803.60 C210.56 802.87 218.57 802.64 223.60 801.40 C226.92 800.59 229.55 799.79 231.60 798.30 C233.34 797.03 234.43 795.56 235.50 793.50 C236.95 790.71 237.76 786.23 238.60 782.60 C239.42 779.06 239.93 775.48 240.50 772.00 C241.05 768.65 241.56 765.86 242.00 762.10 C242.57 757.18 242.97 750.68 243.40 745.00 C243.83 739.35 244.12 734.71 244.60 728.10 C245.28 718.71 246.17 703.56 247.10 694.00 C247.78 687.04 248.55 681.72 249.30 676.00 C249.99 670.77 250.53 666.61 251.40 661.00 C252.52 653.80 254.23 643.48 255.60 636.40 C256.65 630.98 257.31 626.71 258.70 622.10 C260.06 617.58 261.38 611.69 263.80 609.00 C265.51 607.10 267.99 606.44 270.00 605.80 C271.71 605.26 272.88 605.29 275.00 605.10 C278.65 604.77 285.00 604.60 290.00 604.50 C295.00 604.40 300.18 604.50 305.00 604.50 C309.49 604.50 315.36 604.50 318.00 604.50 C319.16 604.50 319.78 604.24 320.50 604.50 C321.20 604.75 321.83 605.02 322.30 606.00 C323.82 609.12 322.62 620.84 323.00 630.00 C323.51 642.26 324.57 658.65 325.30 673.00 C326.03 687.38 326.52 701.81 327.40 716.20 C328.28 730.58 329.26 746.28 330.60 759.30 C331.71 770.14 332.82 781.08 334.50 789.00 C335.65 794.43 336.77 799.59 338.50 802.50 C339.53 804.23 340.54 805.20 342.00 806.00 C343.63 806.89 345.64 807.04 348.00 807.30 C351.30 807.67 355.78 807.51 360.00 807.40 C364.72 807.28 370.09 806.82 375.00 806.50 C379.75 806.19 384.26 805.97 389.00 805.50 C393.92 805.01 399.01 804.35 404.00 803.60 C409.01 802.85 414.40 801.90 419.00 801.00 C422.96 800.23 426.76 799.44 430.00 798.60 C432.61 797.92 434.92 797.29 437.00 796.50 C438.75 795.83 440.24 795.29 441.70 794.30 C443.25 793.25 444.68 791.71 446.00 790.30 C447.28 788.93 448.41 787.64 449.50 786.00 C450.76 784.11 451.97 782.01 453.00 779.50 C454.28 776.39 455.32 772.76 456.20 768.60 C457.34 763.24 458.00 756.46 458.70 749.90 C459.47 742.66 459.95 734.56 460.50 727.00 C461.04 719.59 461.40 712.15 462.00 705.00 C462.57 698.17 463.30 691.39 464.00 685.00 C464.64 679.10 465.42 673.75 466.00 668.00 C466.59 662.09 467.00 656.00 467.50 650.00 C468.00 644.00 468.48 637.39 469.00 632.00 C469.42 627.59 469.80 623.96 470.30 620.00 C470.80 616.10 471.38 612.49 472.00 608.40 C472.70 603.79 473.54 598.50 474.30 593.70 C475.04 589.08 475.71 584.42 476.50 580.10 C477.22 576.15 477.86 572.55 478.80 568.80 C479.75 564.99 480.86 561.05 482.20 557.40 C483.50 553.86 484.92 550.30 486.70 547.20 C488.36 544.30 490.37 541.51 492.40 539.30 C494.17 537.38 495.92 535.78 498.00 534.50 C500.11 533.20 502.41 532.31 505.00 531.60 C507.99 530.79 510.86 530.54 515.00 530.20 C521.73 529.66 532.73 529.80 541.60 529.60" fill="none" stroke="#000" stroke-width="1.7" stroke-linejoin="round"/>
<path d="M107.20 470.00 H541.60" stroke="#000" stroke-width="1.4"/>
<path d="M108.6 469.60 V640.00" stroke="#000" stroke-width="2"/>
<path d="M542.8 493.5 Q539.2 528 541.9 598" fill="none" stroke="#000" stroke-width="1.6"/>
<rect x="98.2" y="463.5" width="453.1" height="357.1" fill="none" stroke="#000" stroke-width="2"/>
<path d="M99.2 814.50h3.8 M550.3 814.50h-3.8 M99.2 797.25h1.9 M550.3 797.25h-1.9 M99.2 780.01h1.9 M550.3 780.01h-1.9 M99.2 762.76h1.9 M550.3 762.76h-1.9 M99.2 745.52h3.8 M550.3 745.52h-3.8 M99.2 728.27h1.9 M550.3 728.27h-1.9 M99.2 711.03h1.9 M550.3 711.03h-1.9 M99.2 693.78h1.9 M550.3 693.78h-1.9 M99.2 676.54h3.8 M550.3 676.54h-3.8 M99.2 659.30h1.9 M550.3 659.30h-1.9 M99.2 642.05h1.9 M550.3 642.05h-1.9 M99.2 624.81h1.9 M550.3 624.81h-1.9 M99.2 607.56h3.8 M550.3 607.56h-3.8 M99.2 590.32h1.9 M550.3 590.32h-1.9 M99.2 573.07h1.9 M550.3 573.07h-1.9 M99.2 555.83h1.9 M550.3 555.83h-1.9 M99.2 538.58h3.8 M550.3 538.58h-3.8 M99.2 521.34h1.9 M550.3 521.34h-1.9 M99.2 504.09h1.9 M550.3 504.09h-1.9 M99.2 486.85h1.9 M550.3 486.85h-1.9 M99.2 469.60h3.8 M550.3 469.60h-3.8 M107.20 819.6v-3.8 M107.20 464.5v3.8 M125.30 819.6v-1.9 M125.30 464.5v1.9 M143.40 819.6v-1.9 M143.40 464.5v1.9 M161.50 819.6v-1.9 M161.50 464.5v1.9 M179.60 819.6v-1.9 M179.60 464.5v1.9 M197.70 819.6v-3.8 M197.70 464.5v3.8 M215.80 819.6v-1.9 M215.80 464.5v1.9 M233.90 819.6v-1.9 M233.90 464.5v1.9 M252.00 819.6v-1.9 M252.00 464.5v1.9 M270.10 819.6v-1.9 M270.10 464.5v1.9 M288.20 819.6v-3.8 M288.20 464.5v3.8 M306.30 819.6v-1.9 M306.30 464.5v1.9 M324.40 819.6v-1.9 M324.40 464.5v1.9 M342.50 819.6v-1.9 M342.50 464.5v1.9 M360.60 819.6v-1.9 M360.60 464.5v1.9 M378.70 819.6v-3.8 M378.70 464.5v3.8 M396.80 819.6v-1.9 M396.80 464.5v1.9 M414.90 819.6v-1.9 M414.90 464.5v1.9 M433.00 819.6v-1.9 M433.00 464.5v1.9 M451.10 819.6v-1.9 M451.10 464.5v1.9 M469.20 819.6v-3.8 M469.20 464.5v3.8 M487.30 819.6v-1.9 M487.30 464.5v1.9 M505.40 819.6v-1.9 M505.40 464.5v1.9 M523.50 819.6v-1.9 M523.50 464.5v1.9 M541.60 819.6v-1.9 M541.60 464.5v1.9" stroke="#000" stroke-width="1.3" fill="none"/>
<rect x="559.2" y="562.50" width="39.8" height="19" fill="#808080"/>
<rect x="559.2" y="589.70" width="39.8" height="19" fill="#ffff00"/>
<rect x="559.2" y="616.90" width="39.8" height="19" fill="#0000ff"/>
<rect x="559.2" y="644.10" width="39.8" height="19" fill="#000000"/>
<rect x="559.2" y="671.30" width="39.8" height="19" fill="#ff0000"/>
<rect x="559.2" y="698.50" width="39.8" height="19" fill="#800080"/>
<rect x="559.2" y="725.70" width="39.8" height="19" fill="#00ff00"/>
<rect x="559.2" y="752.90" width="39.8" height="19" fill="#ff8000"/>
<text x="31.20" y="439.90" class="lb" textLength="12.06" lengthAdjust="spacingAndGlyphs">b</text>
<text x="82.60" y="821.80" class="tb" textLength="10.70" lengthAdjust="spacingAndGlyphs">0</text>
<text x="72.20" y="752.80" class="tb" textLength="22.02" lengthAdjust="spacingAndGlyphs">20</text>
<text x="73.20" y="683.80" class="tb" textLength="20.92" lengthAdjust="spacingAndGlyphs">40</text>
<text x="72.20" y="614.80" class="tb" textLength="22.02" lengthAdjust="spacingAndGlyphs">60</text>
<text x="73.20" y="545.80" class="tb" textLength="20.92" lengthAdjust="spacingAndGlyphs">80</text>
<text x="62.00" y="476.80" class="tb" textLength="31.27" lengthAdjust="spacingAndGlyphs">100</text>
<text x="100.50" y="842.20" class="tb" textLength="11.06" lengthAdjust="spacingAndGlyphs">0</text>
<text x="185.00" y="842.20" class="tb" textLength="22.15" lengthAdjust="spacingAndGlyphs">10</text>
<text x="276.50" y="842.20" class="tb" textLength="20.92" lengthAdjust="spacingAndGlyphs">20</text>
<text x="367.00" y="842.20" class="tb" textLength="20.92" lengthAdjust="spacingAndGlyphs">30</text>
<text x="458.50" y="842.20" class="tb" textLength="19.92" lengthAdjust="spacingAndGlyphs">40</text>
<text x="242.80" y="871.60" class="tb" textLength="163.41" lengthAdjust="spacingAndGlyphs">Time downwind, hr</text>
<text transform="translate(49.90 705.70) rotate(-90)" x="0" y="0" class="tb" textLength="122.21" lengthAdjust="spacingAndGlyphs">% of Total Br</text>
<text x="607.90" y="577.60" class="lgb" textLength="33.15" lengthAdjust="spacingAndGlyphs">HBr</text>
<text x="607.90" y="604.80" class="lgb" textLength="37.56" lengthAdjust="spacingAndGlyphs">BrCl</text>
<text x="607.90" y="632.00" class="lgb" textLength="19.70" lengthAdjust="spacingAndGlyphs">Br</text>
<text x="607.90" y="659.20" class="lgb" textLength="32.29" lengthAdjust="spacingAndGlyphs">BrO</text>
<text x="607.90" y="686.40" class="lgb" textLength="44.33" lengthAdjust="spacingAndGlyphs">HOBr</text>
<text x="607.90" y="713.60" class="lgb" textLength="64.74" lengthAdjust="spacingAndGlyphs">BrONO<tspan class="sb" dy="3">2</tspan></text>
<text x="607.90" y="740.80" class="lgb" textLength="26.48" lengthAdjust="spacingAndGlyphs">Br<tspan class="sb" dy="3">2</tspan></text>
<text x="607.90" y="768.00" class="lgb" textLength="51.64" lengthAdjust="spacingAndGlyphs">BrNO<tspan class="sb" dy="3">2</tspan></text>
</svg>
</body></html>
